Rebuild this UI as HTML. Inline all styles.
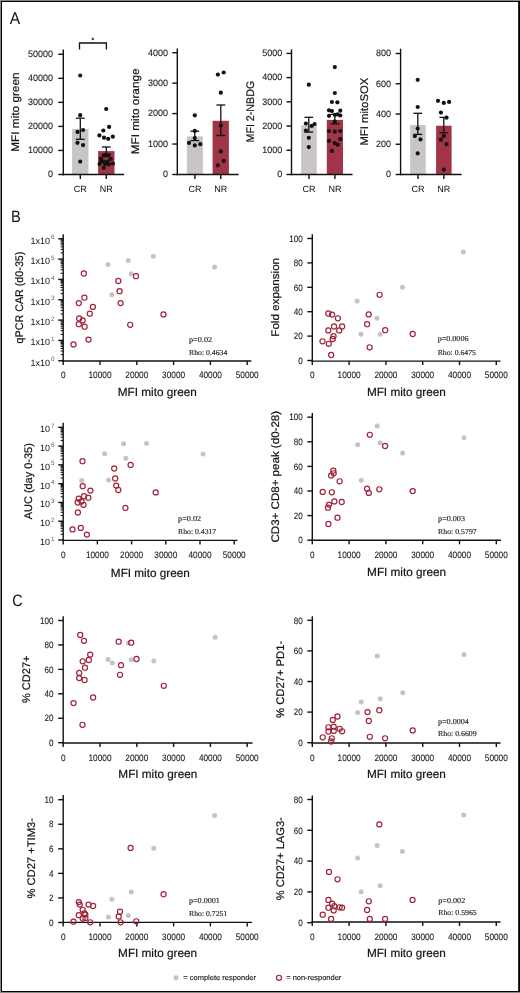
<!DOCTYPE html>
<html><head><meta charset="utf-8"><style>
html,body{margin:0;padding:0;background:#fff;}
body{width:520px;height:993px;overflow:hidden;position:relative;}
.frame{position:absolute;left:0;top:0;width:520px;height:993px;background:#888;}
.blk{position:absolute;left:1px;top:1px;width:519px;height:991px;background:#000;}
.r518{position:absolute;left:518px;top:2px;width:1px;height:989px;background:#2a2a2a;}
.inner{position:absolute;left:2px;top:2px;width:516px;height:989px;background:#fff;}
svg{position:absolute;left:0;top:0;will-change:transform;}
</style></head><body>
<div class="frame"></div><div class="blk"></div><div class="r518"></div><div class="inner"></div>
<svg width="520" height="993" viewBox="0 0 520 993" text-rendering="geometricPrecision">
<text x="9.80" y="23.70" font-size="17" text-anchor="start" font-family='"Liberation Sans", sans-serif' fill="#111" textLength="10.4" lengthAdjust="spacingAndGlyphs">A</text>
<text x="11.00" y="221.90" font-size="16.5" text-anchor="start" font-family='"Liberation Sans", sans-serif' fill="#111" textLength="9.8" lengthAdjust="spacingAndGlyphs">B</text>
<text x="12.30" y="606.20" font-size="16.5" text-anchor="start" font-family='"Liberation Sans", sans-serif' fill="#111" textLength="10.4" lengthAdjust="spacingAndGlyphs">C</text>
<rect x="72.10" y="128.90" width="16.40" height="45.60" fill="#c9c4c6"/>
<rect x="98.10" y="151.10" width="16.40" height="23.40" fill="#a13446"/>
<line x1="63.30" y1="49.50" x2="63.30" y2="175.20" stroke="#111" stroke-width="1.4"/>
<line x1="62.60" y1="174.50" x2="124.20" y2="174.50" stroke="#111" stroke-width="1.4"/>
<line x1="58.30" y1="174.50" x2="63.30" y2="174.50" stroke="#111" stroke-width="1.4"/>
<text x="53.00" y="177.30" font-size="9.4" text-anchor="end" font-family='"Liberation Sans", sans-serif' fill="#1a1a1a" textLength="5.0" lengthAdjust="spacingAndGlyphs" stroke="#1a1a1a" stroke-width="0.1">0</text>
<line x1="58.30" y1="150.45" x2="63.30" y2="150.45" stroke="#111" stroke-width="1.4"/>
<text x="53.00" y="153.25" font-size="9.4" text-anchor="end" font-family='"Liberation Sans", sans-serif' fill="#1a1a1a" textLength="25.0" lengthAdjust="spacingAndGlyphs" stroke="#1a1a1a" stroke-width="0.1">10000</text>
<line x1="58.30" y1="126.40" x2="63.30" y2="126.40" stroke="#111" stroke-width="1.4"/>
<text x="53.00" y="129.20" font-size="9.4" text-anchor="end" font-family='"Liberation Sans", sans-serif' fill="#1a1a1a" textLength="25.0" lengthAdjust="spacingAndGlyphs" stroke="#1a1a1a" stroke-width="0.1">20000</text>
<line x1="58.30" y1="102.35" x2="63.30" y2="102.35" stroke="#111" stroke-width="1.4"/>
<text x="53.00" y="105.15" font-size="9.4" text-anchor="end" font-family='"Liberation Sans", sans-serif' fill="#1a1a1a" textLength="25.0" lengthAdjust="spacingAndGlyphs" stroke="#1a1a1a" stroke-width="0.1">30000</text>
<line x1="58.30" y1="78.30" x2="63.30" y2="78.30" stroke="#111" stroke-width="1.4"/>
<text x="53.00" y="81.10" font-size="9.4" text-anchor="end" font-family='"Liberation Sans", sans-serif' fill="#1a1a1a" textLength="25.0" lengthAdjust="spacingAndGlyphs" stroke="#1a1a1a" stroke-width="0.1">40000</text>
<line x1="58.30" y1="54.25" x2="63.30" y2="54.25" stroke="#111" stroke-width="1.4"/>
<text x="53.00" y="57.05" font-size="9.4" text-anchor="end" font-family='"Liberation Sans", sans-serif' fill="#1a1a1a" textLength="25.0" lengthAdjust="spacingAndGlyphs" stroke="#1a1a1a" stroke-width="0.1">50000</text>
<line x1="80.30" y1="118.20" x2="80.30" y2="139.30" stroke="#111" stroke-width="1.3"/>
<line x1="75.90" y1="118.20" x2="84.70" y2="118.20" stroke="#111" stroke-width="1.3"/>
<line x1="75.90" y1="139.30" x2="84.70" y2="139.30" stroke="#111" stroke-width="1.3"/>
<line x1="106.30" y1="147.00" x2="106.30" y2="154.30" stroke="#111" stroke-width="1.3"/>
<line x1="101.90" y1="147.00" x2="110.70" y2="147.00" stroke="#111" stroke-width="1.3"/>
<line x1="101.90" y1="154.30" x2="110.70" y2="154.30" stroke="#111" stroke-width="1.3"/>
<circle cx="80.20" cy="75.50" r="2.1" fill="#111"/>
<circle cx="80.20" cy="115.20" r="2.1" fill="#111"/>
<circle cx="77.50" cy="131.90" r="2.1" fill="#111"/>
<circle cx="83.10" cy="130.00" r="2.1" fill="#111"/>
<circle cx="77.50" cy="142.80" r="2.1" fill="#111"/>
<circle cx="83.10" cy="145.10" r="2.1" fill="#111"/>
<circle cx="80.20" cy="161.60" r="2.1" fill="#111"/>
<circle cx="106.20" cy="109.00" r="2.1" fill="#111"/>
<circle cx="109.10" cy="126.90" r="2.1" fill="#111"/>
<circle cx="103.30" cy="130.50" r="2.1" fill="#111"/>
<circle cx="99.40" cy="135.40" r="2.1" fill="#111"/>
<circle cx="104.00" cy="137.70" r="2.1" fill="#111"/>
<circle cx="108.20" cy="138.80" r="2.1" fill="#111"/>
<circle cx="112.80" cy="136.70" r="2.1" fill="#111"/>
<circle cx="103.80" cy="155.60" r="2.1" fill="#111"/>
<circle cx="108.20" cy="155.40" r="2.1" fill="#111"/>
<circle cx="106.00" cy="155.20" r="2.1" fill="#111"/>
<circle cx="100.90" cy="158.60" r="2.1" fill="#111"/>
<circle cx="110.80" cy="158.80" r="2.1" fill="#111"/>
<circle cx="103.60" cy="161.60" r="2.1" fill="#111"/>
<circle cx="107.60" cy="161.60" r="2.1" fill="#111"/>
<circle cx="99.60" cy="163.90" r="2.1" fill="#111"/>
<circle cx="112.90" cy="163.50" r="2.1" fill="#111"/>
<circle cx="108.80" cy="164.30" r="2.1" fill="#111"/>
<circle cx="103.80" cy="167.80" r="2.1" fill="#111"/>
<circle cx="101.20" cy="161.00" r="2.1" fill="#111"/>
<circle cx="105.20" cy="164.00" r="2.1" fill="#111"/>
<line x1="80.30" y1="174.50" x2="80.30" y2="179.00" stroke="#111" stroke-width="1.4"/>
<text x="80.30" y="191.50" font-size="9" text-anchor="middle" font-family='"Liberation Sans", sans-serif' fill="#111">CR</text>
<line x1="106.30" y1="174.50" x2="106.30" y2="179.00" stroke="#111" stroke-width="1.4"/>
<text x="106.30" y="191.50" font-size="9" text-anchor="middle" font-family='"Liberation Sans", sans-serif' fill="#111">NR</text>
<text x="19.20" y="112.10" font-size="11" text-anchor="middle" font-family='"Liberation Sans", sans-serif' fill="#111" textLength="79.2" lengthAdjust="spacingAndGlyphs" transform="rotate(-90 19.20 112.10)" stroke="#111" stroke-width="0.2">MFI mito green</text>
<rect x="186.90" y="136.40" width="16.00" height="38.10" fill="#c9c4c6"/>
<rect x="212.60" y="120.80" width="16.30" height="53.70" fill="#a13446"/>
<line x1="177.30" y1="48.40" x2="177.30" y2="175.20" stroke="#111" stroke-width="1.4"/>
<line x1="176.60" y1="174.50" x2="238.60" y2="174.50" stroke="#111" stroke-width="1.4"/>
<line x1="172.30" y1="174.50" x2="177.30" y2="174.50" stroke="#111" stroke-width="1.4"/>
<text x="168.00" y="177.30" font-size="9.4" text-anchor="end" font-family='"Liberation Sans", sans-serif' fill="#1a1a1a" textLength="5.0" lengthAdjust="spacingAndGlyphs" stroke="#1a1a1a" stroke-width="0.1">0</text>
<line x1="172.30" y1="144.05" x2="177.30" y2="144.05" stroke="#111" stroke-width="1.4"/>
<text x="168.00" y="146.85" font-size="9.4" text-anchor="end" font-family='"Liberation Sans", sans-serif' fill="#1a1a1a" textLength="20.0" lengthAdjust="spacingAndGlyphs" stroke="#1a1a1a" stroke-width="0.1">1000</text>
<line x1="172.30" y1="113.60" x2="177.30" y2="113.60" stroke="#111" stroke-width="1.4"/>
<text x="168.00" y="116.40" font-size="9.4" text-anchor="end" font-family='"Liberation Sans", sans-serif' fill="#1a1a1a" textLength="20.0" lengthAdjust="spacingAndGlyphs" stroke="#1a1a1a" stroke-width="0.1">2000</text>
<line x1="172.30" y1="83.15" x2="177.30" y2="83.15" stroke="#111" stroke-width="1.4"/>
<text x="168.00" y="85.95" font-size="9.4" text-anchor="end" font-family='"Liberation Sans", sans-serif' fill="#1a1a1a" textLength="20.0" lengthAdjust="spacingAndGlyphs" stroke="#1a1a1a" stroke-width="0.1">3000</text>
<line x1="172.30" y1="52.70" x2="177.30" y2="52.70" stroke="#111" stroke-width="1.4"/>
<text x="168.00" y="55.50" font-size="9.4" text-anchor="end" font-family='"Liberation Sans", sans-serif' fill="#1a1a1a" textLength="20.0" lengthAdjust="spacingAndGlyphs" stroke="#1a1a1a" stroke-width="0.1">4000</text>
<line x1="194.80" y1="131.20" x2="194.80" y2="140.60" stroke="#111" stroke-width="1.3"/>
<line x1="190.40" y1="131.20" x2="199.20" y2="131.20" stroke="#111" stroke-width="1.3"/>
<line x1="190.40" y1="140.60" x2="199.20" y2="140.60" stroke="#111" stroke-width="1.3"/>
<line x1="220.80" y1="105.00" x2="220.80" y2="135.50" stroke="#111" stroke-width="1.3"/>
<line x1="216.40" y1="105.00" x2="225.20" y2="105.00" stroke="#111" stroke-width="1.3"/>
<line x1="216.40" y1="135.50" x2="225.20" y2="135.50" stroke="#111" stroke-width="1.3"/>
<circle cx="194.80" cy="115.30" r="2.1" fill="#111"/>
<circle cx="194.80" cy="130.90" r="2.1" fill="#111"/>
<circle cx="194.80" cy="138.10" r="2.1" fill="#111"/>
<circle cx="189.00" cy="142.90" r="2.1" fill="#111"/>
<circle cx="194.80" cy="145.40" r="2.1" fill="#111"/>
<circle cx="200.30" cy="144.20" r="2.1" fill="#111"/>
<circle cx="217.90" cy="74.60" r="2.1" fill="#111"/>
<circle cx="223.70" cy="72.50" r="2.1" fill="#111"/>
<circle cx="220.80" cy="92.70" r="2.1" fill="#111"/>
<circle cx="220.80" cy="125.40" r="2.1" fill="#111"/>
<circle cx="220.80" cy="151.40" r="2.1" fill="#111"/>
<circle cx="223.70" cy="160.80" r="2.1" fill="#111"/>
<circle cx="217.90" cy="165.30" r="2.1" fill="#111"/>
<line x1="194.90" y1="174.50" x2="194.90" y2="179.00" stroke="#111" stroke-width="1.4"/>
<text x="194.90" y="191.50" font-size="9" text-anchor="middle" font-family='"Liberation Sans", sans-serif' fill="#111">CR</text>
<line x1="220.75" y1="174.50" x2="220.75" y2="179.00" stroke="#111" stroke-width="1.4"/>
<text x="220.75" y="191.50" font-size="9" text-anchor="middle" font-family='"Liberation Sans", sans-serif' fill="#111">NR</text>
<text x="138.90" y="111.35" font-size="11" text-anchor="middle" font-family='"Liberation Sans", sans-serif' fill="#111" textLength="85.9" lengthAdjust="spacingAndGlyphs" transform="rotate(-90 138.90 111.35)" stroke="#111" stroke-width="0.2">MFI mito orange</text>
<rect x="301.20" y="125.20" width="15.50" height="49.30" fill="#c9c4c6"/>
<rect x="326.80" y="119.90" width="16.20" height="54.60" fill="#a13446"/>
<line x1="291.50" y1="49.40" x2="291.50" y2="175.20" stroke="#111" stroke-width="1.4"/>
<line x1="290.80" y1="174.50" x2="352.50" y2="174.50" stroke="#111" stroke-width="1.4"/>
<line x1="286.50" y1="174.50" x2="291.50" y2="174.50" stroke="#111" stroke-width="1.4"/>
<text x="282.30" y="177.30" font-size="9.4" text-anchor="end" font-family='"Liberation Sans", sans-serif' fill="#1a1a1a" textLength="5.0" lengthAdjust="spacingAndGlyphs" stroke="#1a1a1a" stroke-width="0.1">0</text>
<line x1="286.50" y1="150.28" x2="291.50" y2="150.28" stroke="#111" stroke-width="1.4"/>
<text x="282.30" y="153.08" font-size="9.4" text-anchor="end" font-family='"Liberation Sans", sans-serif' fill="#1a1a1a" textLength="20.0" lengthAdjust="spacingAndGlyphs" stroke="#1a1a1a" stroke-width="0.1">1000</text>
<line x1="286.50" y1="126.06" x2="291.50" y2="126.06" stroke="#111" stroke-width="1.4"/>
<text x="282.30" y="128.86" font-size="9.4" text-anchor="end" font-family='"Liberation Sans", sans-serif' fill="#1a1a1a" textLength="20.0" lengthAdjust="spacingAndGlyphs" stroke="#1a1a1a" stroke-width="0.1">2000</text>
<line x1="286.50" y1="101.84" x2="291.50" y2="101.84" stroke="#111" stroke-width="1.4"/>
<text x="282.30" y="104.64" font-size="9.4" text-anchor="end" font-family='"Liberation Sans", sans-serif' fill="#1a1a1a" textLength="20.0" lengthAdjust="spacingAndGlyphs" stroke="#1a1a1a" stroke-width="0.1">3000</text>
<line x1="286.50" y1="77.62" x2="291.50" y2="77.62" stroke="#111" stroke-width="1.4"/>
<text x="282.30" y="80.42" font-size="9.4" text-anchor="end" font-family='"Liberation Sans", sans-serif' fill="#1a1a1a" textLength="20.0" lengthAdjust="spacingAndGlyphs" stroke="#1a1a1a" stroke-width="0.1">4000</text>
<line x1="286.50" y1="53.40" x2="291.50" y2="53.40" stroke="#111" stroke-width="1.4"/>
<text x="282.30" y="56.20" font-size="9.4" text-anchor="end" font-family='"Liberation Sans", sans-serif' fill="#1a1a1a" textLength="20.0" lengthAdjust="spacingAndGlyphs" stroke="#1a1a1a" stroke-width="0.1">5000</text>
<line x1="308.80" y1="117.30" x2="308.80" y2="132.10" stroke="#111" stroke-width="1.3"/>
<line x1="304.40" y1="117.30" x2="313.20" y2="117.30" stroke="#111" stroke-width="1.3"/>
<line x1="304.40" y1="132.10" x2="313.20" y2="132.10" stroke="#111" stroke-width="1.3"/>
<line x1="334.90" y1="114.40" x2="334.90" y2="123.80" stroke="#111" stroke-width="1.3"/>
<line x1="330.50" y1="114.40" x2="339.30" y2="114.40" stroke="#111" stroke-width="1.3"/>
<line x1="330.50" y1="123.80" x2="339.30" y2="123.80" stroke="#111" stroke-width="1.3"/>
<circle cx="308.80" cy="84.70" r="2.1" fill="#111"/>
<circle cx="305.90" cy="123.50" r="2.1" fill="#111"/>
<circle cx="311.70" cy="125.90" r="2.1" fill="#111"/>
<circle cx="314.60" cy="124.00" r="2.1" fill="#111"/>
<circle cx="305.90" cy="130.50" r="2.1" fill="#111"/>
<circle cx="308.80" cy="137.80" r="2.1" fill="#111"/>
<circle cx="308.80" cy="147.10" r="2.1" fill="#111"/>
<circle cx="334.80" cy="67.10" r="2.1" fill="#111"/>
<circle cx="334.80" cy="93.00" r="2.1" fill="#111"/>
<circle cx="331.90" cy="102.00" r="2.1" fill="#111"/>
<circle cx="337.40" cy="102.30" r="2.1" fill="#111"/>
<circle cx="329.00" cy="110.30" r="2.1" fill="#111"/>
<circle cx="331.90" cy="111.10" r="2.1" fill="#111"/>
<circle cx="340.30" cy="110.70" r="2.1" fill="#111"/>
<circle cx="329.00" cy="115.80" r="2.1" fill="#111"/>
<circle cx="334.80" cy="114.80" r="2.1" fill="#111"/>
<circle cx="337.70" cy="114.40" r="2.1" fill="#111"/>
<circle cx="340.30" cy="115.50" r="2.1" fill="#111"/>
<circle cx="334.80" cy="121.60" r="2.1" fill="#111"/>
<circle cx="329.00" cy="131.00" r="2.1" fill="#111"/>
<circle cx="334.80" cy="131.70" r="2.1" fill="#111"/>
<circle cx="340.30" cy="131.00" r="2.1" fill="#111"/>
<circle cx="329.00" cy="140.80" r="2.1" fill="#111"/>
<circle cx="340.30" cy="139.20" r="2.1" fill="#111"/>
<circle cx="334.80" cy="143.20" r="2.1" fill="#111"/>
<circle cx="337.70" cy="144.70" r="2.1" fill="#111"/>
<circle cx="331.90" cy="150.90" r="2.1" fill="#111"/>
<line x1="308.95" y1="174.50" x2="308.95" y2="179.00" stroke="#111" stroke-width="1.4"/>
<text x="308.95" y="191.50" font-size="9" text-anchor="middle" font-family='"Liberation Sans", sans-serif' fill="#111">CR</text>
<line x1="334.90" y1="174.50" x2="334.90" y2="179.00" stroke="#111" stroke-width="1.4"/>
<text x="334.90" y="191.50" font-size="9" text-anchor="middle" font-family='"Liberation Sans", sans-serif' fill="#111">NR</text>
<text x="253.70" y="111.65" font-size="11" text-anchor="middle" font-family='"Liberation Sans", sans-serif' fill="#111" textLength="61.7" lengthAdjust="spacingAndGlyphs" transform="rotate(-90 253.70 111.65)" stroke="#111" stroke-width="0.2">MFI 2-NBDG</text>
<rect x="410.20" y="125.00" width="15.50" height="49.50" fill="#c9c4c6"/>
<rect x="436.10" y="125.70" width="15.50" height="48.80" fill="#a13446"/>
<line x1="400.60" y1="48.70" x2="400.60" y2="175.20" stroke="#111" stroke-width="1.4"/>
<line x1="399.90" y1="174.50" x2="461.70" y2="174.50" stroke="#111" stroke-width="1.4"/>
<line x1="395.60" y1="174.50" x2="400.60" y2="174.50" stroke="#111" stroke-width="1.4"/>
<text x="391.00" y="177.30" font-size="9.4" text-anchor="end" font-family='"Liberation Sans", sans-serif' fill="#1a1a1a" textLength="5.0" lengthAdjust="spacingAndGlyphs" stroke="#1a1a1a" stroke-width="0.1">0</text>
<line x1="395.60" y1="144.25" x2="400.60" y2="144.25" stroke="#111" stroke-width="1.4"/>
<text x="391.00" y="147.05" font-size="9.4" text-anchor="end" font-family='"Liberation Sans", sans-serif' fill="#1a1a1a" textLength="15.0" lengthAdjust="spacingAndGlyphs" stroke="#1a1a1a" stroke-width="0.1">200</text>
<line x1="395.60" y1="114.00" x2="400.60" y2="114.00" stroke="#111" stroke-width="1.4"/>
<text x="391.00" y="116.80" font-size="9.4" text-anchor="end" font-family='"Liberation Sans", sans-serif' fill="#1a1a1a" textLength="15.0" lengthAdjust="spacingAndGlyphs" stroke="#1a1a1a" stroke-width="0.1">400</text>
<line x1="395.60" y1="83.75" x2="400.60" y2="83.75" stroke="#111" stroke-width="1.4"/>
<text x="391.00" y="86.55" font-size="9.4" text-anchor="end" font-family='"Liberation Sans", sans-serif' fill="#1a1a1a" textLength="15.0" lengthAdjust="spacingAndGlyphs" stroke="#1a1a1a" stroke-width="0.1">600</text>
<line x1="395.60" y1="53.50" x2="400.60" y2="53.50" stroke="#111" stroke-width="1.4"/>
<text x="391.00" y="56.30" font-size="9.4" text-anchor="end" font-family='"Liberation Sans", sans-serif' fill="#1a1a1a" textLength="15.0" lengthAdjust="spacingAndGlyphs" stroke="#1a1a1a" stroke-width="0.1">800</text>
<line x1="417.80" y1="113.30" x2="417.80" y2="134.40" stroke="#111" stroke-width="1.3"/>
<line x1="413.40" y1="113.30" x2="422.20" y2="113.30" stroke="#111" stroke-width="1.3"/>
<line x1="413.40" y1="134.40" x2="422.20" y2="134.40" stroke="#111" stroke-width="1.3"/>
<line x1="443.80" y1="117.40" x2="443.80" y2="132.80" stroke="#111" stroke-width="1.3"/>
<line x1="439.40" y1="117.40" x2="448.20" y2="117.40" stroke="#111" stroke-width="1.3"/>
<line x1="439.40" y1="132.80" x2="448.20" y2="132.80" stroke="#111" stroke-width="1.3"/>
<circle cx="417.70" cy="79.80" r="2.1" fill="#111"/>
<circle cx="417.70" cy="107.00" r="2.1" fill="#111"/>
<circle cx="417.70" cy="128.50" r="2.1" fill="#111"/>
<circle cx="414.90" cy="136.10" r="2.1" fill="#111"/>
<circle cx="420.50" cy="139.40" r="2.1" fill="#111"/>
<circle cx="417.70" cy="153.40" r="2.1" fill="#111"/>
<circle cx="438.00" cy="100.80" r="2.1" fill="#111"/>
<circle cx="443.80" cy="102.90" r="2.1" fill="#111"/>
<circle cx="449.10" cy="101.90" r="2.1" fill="#111"/>
<circle cx="440.90" cy="112.60" r="2.1" fill="#111"/>
<circle cx="446.50" cy="117.70" r="2.1" fill="#111"/>
<circle cx="443.80" cy="136.10" r="2.1" fill="#111"/>
<circle cx="440.90" cy="139.70" r="2.1" fill="#111"/>
<circle cx="446.50" cy="144.10" r="2.1" fill="#111"/>
<circle cx="443.80" cy="169.60" r="2.1" fill="#111"/>
<line x1="417.95" y1="174.50" x2="417.95" y2="179.00" stroke="#111" stroke-width="1.4"/>
<text x="417.95" y="191.50" font-size="9" text-anchor="middle" font-family='"Liberation Sans", sans-serif' fill="#111">CR</text>
<line x1="443.85" y1="174.50" x2="443.85" y2="179.00" stroke="#111" stroke-width="1.4"/>
<text x="443.85" y="191.50" font-size="9" text-anchor="middle" font-family='"Liberation Sans", sans-serif' fill="#111">NR</text>
<text x="367.70" y="111.65" font-size="11" text-anchor="middle" font-family='"Liberation Sans", sans-serif' fill="#111" textLength="67.9" lengthAdjust="spacingAndGlyphs" transform="rotate(-90 367.70 111.65)" stroke="#111" stroke-width="0.2">MFI mitoSOX</text>
<polyline points="79.5,49.5 79.5,43 106.4,43 106.4,49.5" fill="none" stroke="#111" stroke-width="1.3"/>
<g stroke="#222" stroke-width="0.8"><line x1="92.8" y1="37.6" x2="92.8" y2="40.2"/><line x1="91.7" y1="38.2" x2="93.9" y2="39.6"/><line x1="91.7" y1="39.6" x2="93.9" y2="38.2"/></g>
<line x1="63.20" y1="234.20" x2="63.20" y2="361.70" stroke="#111" stroke-width="1.4"/>
<line x1="62.50" y1="361.00" x2="251.30" y2="361.00" stroke="#111" stroke-width="1.4"/>
<line x1="58.20" y1="360.75" x2="63.20" y2="360.75" stroke="#111" stroke-width="1.4"/>
<text x="50.00" y="365.65" font-size="9" text-anchor="end" font-family='"Liberation Sans", sans-serif' fill="#111">1x10</text>
<text x="50.90" y="361.35" font-size="6.3" text-anchor="start" font-family='"Liberation Sans", sans-serif' fill="#666">0</text>
<line x1="58.20" y1="340.42" x2="63.20" y2="340.42" stroke="#111" stroke-width="1.4"/>
<text x="50.00" y="345.32" font-size="9" text-anchor="end" font-family='"Liberation Sans", sans-serif' fill="#111">1x10</text>
<text x="50.90" y="341.02" font-size="6.3" text-anchor="start" font-family='"Liberation Sans", sans-serif' fill="#666">1</text>
<line x1="58.20" y1="320.09" x2="63.20" y2="320.09" stroke="#111" stroke-width="1.4"/>
<text x="50.00" y="324.99" font-size="9" text-anchor="end" font-family='"Liberation Sans", sans-serif' fill="#111">1x10</text>
<text x="50.90" y="320.69" font-size="6.3" text-anchor="start" font-family='"Liberation Sans", sans-serif' fill="#666">2</text>
<line x1="58.20" y1="299.76" x2="63.20" y2="299.76" stroke="#111" stroke-width="1.4"/>
<text x="50.00" y="304.66" font-size="9" text-anchor="end" font-family='"Liberation Sans", sans-serif' fill="#111">1x10</text>
<text x="50.90" y="300.36" font-size="6.3" text-anchor="start" font-family='"Liberation Sans", sans-serif' fill="#666">3</text>
<line x1="58.20" y1="279.43" x2="63.20" y2="279.43" stroke="#111" stroke-width="1.4"/>
<text x="50.00" y="284.33" font-size="9" text-anchor="end" font-family='"Liberation Sans", sans-serif' fill="#111">1x10</text>
<text x="50.90" y="280.03" font-size="6.3" text-anchor="start" font-family='"Liberation Sans", sans-serif' fill="#666">4</text>
<line x1="58.20" y1="259.10" x2="63.20" y2="259.10" stroke="#111" stroke-width="1.4"/>
<text x="50.00" y="264.00" font-size="9" text-anchor="end" font-family='"Liberation Sans", sans-serif' fill="#111">1x10</text>
<text x="50.90" y="259.70" font-size="6.3" text-anchor="start" font-family='"Liberation Sans", sans-serif' fill="#666">5</text>
<line x1="58.20" y1="238.77" x2="63.20" y2="238.77" stroke="#111" stroke-width="1.4"/>
<text x="50.00" y="243.67" font-size="9" text-anchor="end" font-family='"Liberation Sans", sans-serif' fill="#111">1x10</text>
<text x="50.90" y="239.37" font-size="6.3" text-anchor="start" font-family='"Liberation Sans", sans-serif' fill="#666">6</text>
<line x1="60.60" y1="354.63" x2="63.20" y2="354.63" stroke="#111" stroke-width="1.0"/>
<line x1="60.60" y1="351.05" x2="63.20" y2="351.05" stroke="#111" stroke-width="1.0"/>
<line x1="60.60" y1="348.51" x2="63.20" y2="348.51" stroke="#111" stroke-width="1.0"/>
<line x1="60.60" y1="346.54" x2="63.20" y2="346.54" stroke="#111" stroke-width="1.0"/>
<line x1="60.60" y1="344.93" x2="63.20" y2="344.93" stroke="#111" stroke-width="1.0"/>
<line x1="60.60" y1="343.57" x2="63.20" y2="343.57" stroke="#111" stroke-width="1.0"/>
<line x1="60.60" y1="342.39" x2="63.20" y2="342.39" stroke="#111" stroke-width="1.0"/>
<line x1="60.60" y1="341.35" x2="63.20" y2="341.35" stroke="#111" stroke-width="1.0"/>
<line x1="60.60" y1="334.30" x2="63.20" y2="334.30" stroke="#111" stroke-width="1.0"/>
<line x1="60.60" y1="330.72" x2="63.20" y2="330.72" stroke="#111" stroke-width="1.0"/>
<line x1="60.60" y1="328.18" x2="63.20" y2="328.18" stroke="#111" stroke-width="1.0"/>
<line x1="60.60" y1="326.21" x2="63.20" y2="326.21" stroke="#111" stroke-width="1.0"/>
<line x1="60.60" y1="324.60" x2="63.20" y2="324.60" stroke="#111" stroke-width="1.0"/>
<line x1="60.60" y1="323.24" x2="63.20" y2="323.24" stroke="#111" stroke-width="1.0"/>
<line x1="60.60" y1="322.06" x2="63.20" y2="322.06" stroke="#111" stroke-width="1.0"/>
<line x1="60.60" y1="321.02" x2="63.20" y2="321.02" stroke="#111" stroke-width="1.0"/>
<line x1="60.60" y1="313.97" x2="63.20" y2="313.97" stroke="#111" stroke-width="1.0"/>
<line x1="60.60" y1="310.39" x2="63.20" y2="310.39" stroke="#111" stroke-width="1.0"/>
<line x1="60.60" y1="307.85" x2="63.20" y2="307.85" stroke="#111" stroke-width="1.0"/>
<line x1="60.60" y1="305.88" x2="63.20" y2="305.88" stroke="#111" stroke-width="1.0"/>
<line x1="60.60" y1="304.27" x2="63.20" y2="304.27" stroke="#111" stroke-width="1.0"/>
<line x1="60.60" y1="302.91" x2="63.20" y2="302.91" stroke="#111" stroke-width="1.0"/>
<line x1="60.60" y1="301.73" x2="63.20" y2="301.73" stroke="#111" stroke-width="1.0"/>
<line x1="60.60" y1="300.69" x2="63.20" y2="300.69" stroke="#111" stroke-width="1.0"/>
<line x1="60.60" y1="293.64" x2="63.20" y2="293.64" stroke="#111" stroke-width="1.0"/>
<line x1="60.60" y1="290.06" x2="63.20" y2="290.06" stroke="#111" stroke-width="1.0"/>
<line x1="60.60" y1="287.52" x2="63.20" y2="287.52" stroke="#111" stroke-width="1.0"/>
<line x1="60.60" y1="285.55" x2="63.20" y2="285.55" stroke="#111" stroke-width="1.0"/>
<line x1="60.60" y1="283.94" x2="63.20" y2="283.94" stroke="#111" stroke-width="1.0"/>
<line x1="60.60" y1="282.58" x2="63.20" y2="282.58" stroke="#111" stroke-width="1.0"/>
<line x1="60.60" y1="281.40" x2="63.20" y2="281.40" stroke="#111" stroke-width="1.0"/>
<line x1="60.60" y1="280.36" x2="63.20" y2="280.36" stroke="#111" stroke-width="1.0"/>
<line x1="60.60" y1="273.31" x2="63.20" y2="273.31" stroke="#111" stroke-width="1.0"/>
<line x1="60.60" y1="269.73" x2="63.20" y2="269.73" stroke="#111" stroke-width="1.0"/>
<line x1="60.60" y1="267.19" x2="63.20" y2="267.19" stroke="#111" stroke-width="1.0"/>
<line x1="60.60" y1="265.22" x2="63.20" y2="265.22" stroke="#111" stroke-width="1.0"/>
<line x1="60.60" y1="263.61" x2="63.20" y2="263.61" stroke="#111" stroke-width="1.0"/>
<line x1="60.60" y1="262.25" x2="63.20" y2="262.25" stroke="#111" stroke-width="1.0"/>
<line x1="60.60" y1="261.07" x2="63.20" y2="261.07" stroke="#111" stroke-width="1.0"/>
<line x1="60.60" y1="260.03" x2="63.20" y2="260.03" stroke="#111" stroke-width="1.0"/>
<line x1="60.60" y1="252.98" x2="63.20" y2="252.98" stroke="#111" stroke-width="1.0"/>
<line x1="60.60" y1="249.40" x2="63.20" y2="249.40" stroke="#111" stroke-width="1.0"/>
<line x1="60.60" y1="246.86" x2="63.20" y2="246.86" stroke="#111" stroke-width="1.0"/>
<line x1="60.60" y1="244.89" x2="63.20" y2="244.89" stroke="#111" stroke-width="1.0"/>
<line x1="60.60" y1="243.28" x2="63.20" y2="243.28" stroke="#111" stroke-width="1.0"/>
<line x1="60.60" y1="241.92" x2="63.20" y2="241.92" stroke="#111" stroke-width="1.0"/>
<line x1="60.60" y1="240.74" x2="63.20" y2="240.74" stroke="#111" stroke-width="1.0"/>
<line x1="60.60" y1="239.70" x2="63.20" y2="239.70" stroke="#111" stroke-width="1.0"/>
<line x1="63.20" y1="361.00" x2="63.20" y2="365.00" stroke="#111" stroke-width="1.4"/>
<text x="63.20" y="378.10" font-size="9.3" text-anchor="middle" font-family='"Liberation Sans", sans-serif' fill="#1a1a1a" textLength="4.6" lengthAdjust="spacingAndGlyphs" stroke="#1a1a1a" stroke-width="0.1">0</text>
<line x1="100.00" y1="361.00" x2="100.00" y2="365.00" stroke="#111" stroke-width="1.4"/>
<text x="100.00" y="378.10" font-size="9.3" text-anchor="middle" font-family='"Liberation Sans", sans-serif' fill="#1a1a1a" textLength="23.0" lengthAdjust="spacingAndGlyphs" stroke="#1a1a1a" stroke-width="0.1">10000</text>
<line x1="136.80" y1="361.00" x2="136.80" y2="365.00" stroke="#111" stroke-width="1.4"/>
<text x="136.80" y="378.10" font-size="9.3" text-anchor="middle" font-family='"Liberation Sans", sans-serif' fill="#1a1a1a" textLength="23.0" lengthAdjust="spacingAndGlyphs" stroke="#1a1a1a" stroke-width="0.1">20000</text>
<line x1="173.60" y1="361.00" x2="173.60" y2="365.00" stroke="#111" stroke-width="1.4"/>
<text x="173.60" y="378.10" font-size="9.3" text-anchor="middle" font-family='"Liberation Sans", sans-serif' fill="#1a1a1a" textLength="23.0" lengthAdjust="spacingAndGlyphs" stroke="#1a1a1a" stroke-width="0.1">30000</text>
<line x1="210.40" y1="361.00" x2="210.40" y2="365.00" stroke="#111" stroke-width="1.4"/>
<text x="210.40" y="378.10" font-size="9.3" text-anchor="middle" font-family='"Liberation Sans", sans-serif' fill="#1a1a1a" textLength="23.0" lengthAdjust="spacingAndGlyphs" stroke="#1a1a1a" stroke-width="0.1">40000</text>
<line x1="247.20" y1="361.00" x2="247.20" y2="365.00" stroke="#111" stroke-width="1.4"/>
<text x="247.20" y="378.10" font-size="9.3" text-anchor="middle" font-family='"Liberation Sans", sans-serif' fill="#1a1a1a" textLength="23.0" lengthAdjust="spacingAndGlyphs" stroke="#1a1a1a" stroke-width="0.1">50000</text>
<text x="157.25" y="396.00" font-size="11.8" text-anchor="middle" font-family='"Liberation Sans", sans-serif' fill="#111" textLength="79" lengthAdjust="spacingAndGlyphs" stroke="#111" stroke-width="0.2">MFI mito green</text>
<text x="23.40" y="297.55" font-size="11" text-anchor="middle" font-family='"Liberation Sans", sans-serif' fill="#111" textLength="91.9" lengthAdjust="spacingAndGlyphs" transform="rotate(-90 23.40 297.55)" stroke="#111" stroke-width="0.2">qPCR CAR (d0-35)</text>
<circle cx="108.10" cy="264.60" r="2.5" fill="#c7c2c4"/>
<circle cx="128.30" cy="260.40" r="2.5" fill="#c7c2c4"/>
<circle cx="153.30" cy="256.30" r="2.5" fill="#c7c2c4"/>
<circle cx="131.20" cy="273.80" r="2.5" fill="#c7c2c4"/>
<circle cx="111.90" cy="294.80" r="2.5" fill="#c7c2c4"/>
<circle cx="214.50" cy="267.00" r="2.5" fill="#c7c2c4"/>
<circle cx="83.80" cy="273.50" r="2.55" fill="none" stroke="#a0243a" stroke-width="1.2"/>
<circle cx="118.30" cy="281.00" r="2.55" fill="none" stroke="#a0243a" stroke-width="1.2"/>
<circle cx="136.00" cy="276.20" r="2.55" fill="none" stroke="#a0243a" stroke-width="1.2"/>
<circle cx="119.60" cy="291.20" r="2.55" fill="none" stroke="#a0243a" stroke-width="1.2"/>
<circle cx="84.40" cy="297.70" r="2.55" fill="none" stroke="#a0243a" stroke-width="1.2"/>
<circle cx="78.80" cy="303.10" r="2.55" fill="none" stroke="#a0243a" stroke-width="1.2"/>
<circle cx="120.60" cy="303.10" r="2.55" fill="none" stroke="#a0243a" stroke-width="1.2"/>
<circle cx="92.90" cy="306.90" r="2.55" fill="none" stroke="#a0243a" stroke-width="1.2"/>
<circle cx="89.80" cy="313.70" r="2.55" fill="none" stroke="#a0243a" stroke-width="1.2"/>
<circle cx="79.20" cy="318.50" r="2.55" fill="none" stroke="#a0243a" stroke-width="1.2"/>
<circle cx="82.70" cy="320.40" r="2.55" fill="none" stroke="#a0243a" stroke-width="1.2"/>
<circle cx="78.80" cy="324.20" r="2.55" fill="none" stroke="#a0243a" stroke-width="1.2"/>
<circle cx="84.60" cy="326.70" r="2.55" fill="none" stroke="#a0243a" stroke-width="1.2"/>
<circle cx="130.20" cy="324.80" r="2.55" fill="none" stroke="#a0243a" stroke-width="1.2"/>
<circle cx="88.50" cy="339.60" r="2.55" fill="none" stroke="#a0243a" stroke-width="1.2"/>
<circle cx="73.50" cy="344.40" r="2.55" fill="none" stroke="#a0243a" stroke-width="1.2"/>
<circle cx="163.50" cy="314.40" r="2.55" fill="none" stroke="#a0243a" stroke-width="1.2"/>
<text x="189.00" y="341.90" font-size="7.6" text-anchor="start" font-family='"Liberation Serif", serif' fill="#222" textLength="23.1" lengthAdjust="spacingAndGlyphs" stroke="#222" stroke-width="0.15">p=0.02</text>
<text x="189.00" y="354.80" font-size="7.6" text-anchor="start" font-family='"Liberation Serif", serif' fill="#222" textLength="38.3" lengthAdjust="spacingAndGlyphs" stroke="#222" stroke-width="0.15">Rho: 0.4634</text>
<line x1="312.30" y1="234.20" x2="312.30" y2="361.80" stroke="#111" stroke-width="1.4"/>
<line x1="311.60" y1="361.10" x2="500.50" y2="361.10" stroke="#111" stroke-width="1.4"/>
<line x1="307.30" y1="360.50" x2="312.30" y2="360.50" stroke="#111" stroke-width="1.4"/>
<text x="302.70" y="363.70" font-size="9.3" text-anchor="end" font-family='"Liberation Sans", sans-serif' fill="#1a1a1a" textLength="4.5" lengthAdjust="spacingAndGlyphs" stroke="#1a1a1a" stroke-width="0.1">0</text>
<line x1="307.30" y1="336.10" x2="312.30" y2="336.10" stroke="#111" stroke-width="1.4"/>
<text x="302.70" y="339.30" font-size="9.3" text-anchor="end" font-family='"Liberation Sans", sans-serif' fill="#1a1a1a" textLength="9.0" lengthAdjust="spacingAndGlyphs" stroke="#1a1a1a" stroke-width="0.1">20</text>
<line x1="307.30" y1="311.70" x2="312.30" y2="311.70" stroke="#111" stroke-width="1.4"/>
<text x="302.70" y="314.90" font-size="9.3" text-anchor="end" font-family='"Liberation Sans", sans-serif' fill="#1a1a1a" textLength="9.0" lengthAdjust="spacingAndGlyphs" stroke="#1a1a1a" stroke-width="0.1">40</text>
<line x1="307.30" y1="287.30" x2="312.30" y2="287.30" stroke="#111" stroke-width="1.4"/>
<text x="302.70" y="290.50" font-size="9.3" text-anchor="end" font-family='"Liberation Sans", sans-serif' fill="#1a1a1a" textLength="9.0" lengthAdjust="spacingAndGlyphs" stroke="#1a1a1a" stroke-width="0.1">60</text>
<line x1="307.30" y1="262.90" x2="312.30" y2="262.90" stroke="#111" stroke-width="1.4"/>
<text x="302.70" y="266.10" font-size="9.3" text-anchor="end" font-family='"Liberation Sans", sans-serif' fill="#1a1a1a" textLength="9.0" lengthAdjust="spacingAndGlyphs" stroke="#1a1a1a" stroke-width="0.1">80</text>
<line x1="307.30" y1="238.50" x2="312.30" y2="238.50" stroke="#111" stroke-width="1.4"/>
<text x="302.70" y="241.70" font-size="9.3" text-anchor="end" font-family='"Liberation Sans", sans-serif' fill="#1a1a1a" textLength="13.5" lengthAdjust="spacingAndGlyphs" stroke="#1a1a1a" stroke-width="0.1">100</text>
<line x1="312.30" y1="361.10" x2="312.30" y2="365.10" stroke="#111" stroke-width="1.4"/>
<text x="312.30" y="378.10" font-size="9.3" text-anchor="middle" font-family='"Liberation Sans", sans-serif' fill="#1a1a1a" textLength="4.6" lengthAdjust="spacingAndGlyphs" stroke="#1a1a1a" stroke-width="0.1">0</text>
<line x1="349.10" y1="361.10" x2="349.10" y2="365.10" stroke="#111" stroke-width="1.4"/>
<text x="349.10" y="378.10" font-size="9.3" text-anchor="middle" font-family='"Liberation Sans", sans-serif' fill="#1a1a1a" textLength="23.0" lengthAdjust="spacingAndGlyphs" stroke="#1a1a1a" stroke-width="0.1">10000</text>
<line x1="385.90" y1="361.10" x2="385.90" y2="365.10" stroke="#111" stroke-width="1.4"/>
<text x="385.90" y="378.10" font-size="9.3" text-anchor="middle" font-family='"Liberation Sans", sans-serif' fill="#1a1a1a" textLength="23.0" lengthAdjust="spacingAndGlyphs" stroke="#1a1a1a" stroke-width="0.1">20000</text>
<line x1="422.70" y1="361.10" x2="422.70" y2="365.10" stroke="#111" stroke-width="1.4"/>
<text x="422.70" y="378.10" font-size="9.3" text-anchor="middle" font-family='"Liberation Sans", sans-serif' fill="#1a1a1a" textLength="23.0" lengthAdjust="spacingAndGlyphs" stroke="#1a1a1a" stroke-width="0.1">30000</text>
<line x1="459.50" y1="361.10" x2="459.50" y2="365.10" stroke="#111" stroke-width="1.4"/>
<text x="459.50" y="378.10" font-size="9.3" text-anchor="middle" font-family='"Liberation Sans", sans-serif' fill="#1a1a1a" textLength="23.0" lengthAdjust="spacingAndGlyphs" stroke="#1a1a1a" stroke-width="0.1">40000</text>
<line x1="496.30" y1="361.10" x2="496.30" y2="365.10" stroke="#111" stroke-width="1.4"/>
<text x="496.30" y="378.10" font-size="9.3" text-anchor="middle" font-family='"Liberation Sans", sans-serif' fill="#1a1a1a" textLength="23.0" lengthAdjust="spacingAndGlyphs" stroke="#1a1a1a" stroke-width="0.1">50000</text>
<text x="406.40" y="396.00" font-size="11.8" text-anchor="middle" font-family='"Liberation Sans", sans-serif' fill="#111" textLength="79" lengthAdjust="spacingAndGlyphs" stroke="#111" stroke-width="0.2">MFI mito green</text>
<text x="279.30" y="297.30" font-size="11" text-anchor="middle" font-family='"Liberation Sans", sans-serif' fill="#111" textLength="78.8" lengthAdjust="spacingAndGlyphs" transform="rotate(-90 279.30 297.30)" stroke="#111" stroke-width="0.2">Fold expansion</text>
<circle cx="357.10" cy="301.00" r="2.5" fill="#c7c2c4"/>
<circle cx="376.90" cy="318.30" r="2.5" fill="#c7c2c4"/>
<circle cx="361.00" cy="334.20" r="2.5" fill="#c7c2c4"/>
<circle cx="380.20" cy="334.20" r="2.5" fill="#c7c2c4"/>
<circle cx="402.50" cy="287.30" r="2.5" fill="#c7c2c4"/>
<circle cx="463.30" cy="251.90" r="2.5" fill="#c7c2c4"/>
<circle cx="379.60" cy="294.80" r="2.55" fill="none" stroke="#a0243a" stroke-width="1.2"/>
<circle cx="328.30" cy="313.50" r="2.55" fill="none" stroke="#a0243a" stroke-width="1.2"/>
<circle cx="332.10" cy="314.60" r="2.55" fill="none" stroke="#a0243a" stroke-width="1.2"/>
<circle cx="337.90" cy="318.30" r="2.55" fill="none" stroke="#a0243a" stroke-width="1.2"/>
<circle cx="368.70" cy="314.40" r="2.55" fill="none" stroke="#a0243a" stroke-width="1.2"/>
<circle cx="367.10" cy="324.20" r="2.55" fill="none" stroke="#a0243a" stroke-width="1.2"/>
<circle cx="334.00" cy="326.50" r="2.55" fill="none" stroke="#a0243a" stroke-width="1.2"/>
<circle cx="342.10" cy="326.50" r="2.55" fill="none" stroke="#a0243a" stroke-width="1.2"/>
<circle cx="328.30" cy="330.40" r="2.55" fill="none" stroke="#a0243a" stroke-width="1.2"/>
<circle cx="339.20" cy="330.40" r="2.55" fill="none" stroke="#a0243a" stroke-width="1.2"/>
<circle cx="385.20" cy="330.20" r="2.55" fill="none" stroke="#a0243a" stroke-width="1.2"/>
<circle cx="333.50" cy="336.20" r="2.55" fill="none" stroke="#a0243a" stroke-width="1.2"/>
<circle cx="332.70" cy="339.00" r="2.55" fill="none" stroke="#a0243a" stroke-width="1.2"/>
<circle cx="322.50" cy="341.30" r="2.55" fill="none" stroke="#a0243a" stroke-width="1.2"/>
<circle cx="328.80" cy="343.80" r="2.55" fill="none" stroke="#a0243a" stroke-width="1.2"/>
<circle cx="369.60" cy="347.30" r="2.55" fill="none" stroke="#a0243a" stroke-width="1.2"/>
<circle cx="331.20" cy="355.00" r="2.55" fill="none" stroke="#a0243a" stroke-width="1.2"/>
<circle cx="412.70" cy="334.00" r="2.55" fill="none" stroke="#a0243a" stroke-width="1.2"/>
<text x="437.70" y="341.20" font-size="7.6" text-anchor="start" font-family='"Liberation Serif", serif' fill="#222" textLength="30.8" lengthAdjust="spacingAndGlyphs" stroke="#222" stroke-width="0.15">p=0.0006</text>
<text x="437.70" y="354.80" font-size="7.6" text-anchor="start" font-family='"Liberation Serif", serif' fill="#222" textLength="38.3" lengthAdjust="spacingAndGlyphs" stroke="#222" stroke-width="0.15">Rho: 0.6475</text>
<line x1="63.20" y1="422.70" x2="63.20" y2="541.10" stroke="#111" stroke-width="1.4"/>
<line x1="62.50" y1="540.40" x2="237.50" y2="540.40" stroke="#111" stroke-width="1.4"/>
<line x1="58.20" y1="540.00" x2="63.20" y2="540.00" stroke="#111" stroke-width="1.4"/>
<text x="50.00" y="544.90" font-size="9" text-anchor="end" font-family='"Liberation Sans", sans-serif' fill="#111">10</text>
<text x="50.90" y="540.60" font-size="6.3" text-anchor="start" font-family='"Liberation Sans", sans-serif' fill="#666">1</text>
<line x1="58.20" y1="521.22" x2="63.20" y2="521.22" stroke="#111" stroke-width="1.4"/>
<text x="50.00" y="526.12" font-size="9" text-anchor="end" font-family='"Liberation Sans", sans-serif' fill="#111">10</text>
<text x="50.90" y="521.82" font-size="6.3" text-anchor="start" font-family='"Liberation Sans", sans-serif' fill="#666">2</text>
<line x1="58.20" y1="502.44" x2="63.20" y2="502.44" stroke="#111" stroke-width="1.4"/>
<text x="50.00" y="507.34" font-size="9" text-anchor="end" font-family='"Liberation Sans", sans-serif' fill="#111">10</text>
<text x="50.90" y="503.04" font-size="6.3" text-anchor="start" font-family='"Liberation Sans", sans-serif' fill="#666">3</text>
<line x1="58.20" y1="483.66" x2="63.20" y2="483.66" stroke="#111" stroke-width="1.4"/>
<text x="50.00" y="488.56" font-size="9" text-anchor="end" font-family='"Liberation Sans", sans-serif' fill="#111">10</text>
<text x="50.90" y="484.26" font-size="6.3" text-anchor="start" font-family='"Liberation Sans", sans-serif' fill="#666">4</text>
<line x1="58.20" y1="464.88" x2="63.20" y2="464.88" stroke="#111" stroke-width="1.4"/>
<text x="50.00" y="469.78" font-size="9" text-anchor="end" font-family='"Liberation Sans", sans-serif' fill="#111">10</text>
<text x="50.90" y="465.48" font-size="6.3" text-anchor="start" font-family='"Liberation Sans", sans-serif' fill="#666">5</text>
<line x1="58.20" y1="446.10" x2="63.20" y2="446.10" stroke="#111" stroke-width="1.4"/>
<text x="50.00" y="451.00" font-size="9" text-anchor="end" font-family='"Liberation Sans", sans-serif' fill="#111">10</text>
<text x="50.90" y="446.70" font-size="6.3" text-anchor="start" font-family='"Liberation Sans", sans-serif' fill="#666">6</text>
<line x1="58.20" y1="427.32" x2="63.20" y2="427.32" stroke="#111" stroke-width="1.4"/>
<text x="50.00" y="432.22" font-size="9" text-anchor="end" font-family='"Liberation Sans", sans-serif' fill="#111">10</text>
<text x="50.90" y="427.92" font-size="6.3" text-anchor="start" font-family='"Liberation Sans", sans-serif' fill="#666">7</text>
<line x1="60.60" y1="534.35" x2="63.20" y2="534.35" stroke="#111" stroke-width="1.0"/>
<line x1="60.60" y1="531.04" x2="63.20" y2="531.04" stroke="#111" stroke-width="1.0"/>
<line x1="60.60" y1="528.69" x2="63.20" y2="528.69" stroke="#111" stroke-width="1.0"/>
<line x1="60.60" y1="526.87" x2="63.20" y2="526.87" stroke="#111" stroke-width="1.0"/>
<line x1="60.60" y1="525.39" x2="63.20" y2="525.39" stroke="#111" stroke-width="1.0"/>
<line x1="60.60" y1="524.13" x2="63.20" y2="524.13" stroke="#111" stroke-width="1.0"/>
<line x1="60.60" y1="523.04" x2="63.20" y2="523.04" stroke="#111" stroke-width="1.0"/>
<line x1="60.60" y1="522.08" x2="63.20" y2="522.08" stroke="#111" stroke-width="1.0"/>
<line x1="60.60" y1="515.57" x2="63.20" y2="515.57" stroke="#111" stroke-width="1.0"/>
<line x1="60.60" y1="512.26" x2="63.20" y2="512.26" stroke="#111" stroke-width="1.0"/>
<line x1="60.60" y1="509.91" x2="63.20" y2="509.91" stroke="#111" stroke-width="1.0"/>
<line x1="60.60" y1="508.09" x2="63.20" y2="508.09" stroke="#111" stroke-width="1.0"/>
<line x1="60.60" y1="506.61" x2="63.20" y2="506.61" stroke="#111" stroke-width="1.0"/>
<line x1="60.60" y1="505.35" x2="63.20" y2="505.35" stroke="#111" stroke-width="1.0"/>
<line x1="60.60" y1="504.26" x2="63.20" y2="504.26" stroke="#111" stroke-width="1.0"/>
<line x1="60.60" y1="503.30" x2="63.20" y2="503.30" stroke="#111" stroke-width="1.0"/>
<line x1="60.60" y1="496.79" x2="63.20" y2="496.79" stroke="#111" stroke-width="1.0"/>
<line x1="60.60" y1="493.48" x2="63.20" y2="493.48" stroke="#111" stroke-width="1.0"/>
<line x1="60.60" y1="491.13" x2="63.20" y2="491.13" stroke="#111" stroke-width="1.0"/>
<line x1="60.60" y1="489.31" x2="63.20" y2="489.31" stroke="#111" stroke-width="1.0"/>
<line x1="60.60" y1="487.83" x2="63.20" y2="487.83" stroke="#111" stroke-width="1.0"/>
<line x1="60.60" y1="486.57" x2="63.20" y2="486.57" stroke="#111" stroke-width="1.0"/>
<line x1="60.60" y1="485.48" x2="63.20" y2="485.48" stroke="#111" stroke-width="1.0"/>
<line x1="60.60" y1="484.52" x2="63.20" y2="484.52" stroke="#111" stroke-width="1.0"/>
<line x1="60.60" y1="478.01" x2="63.20" y2="478.01" stroke="#111" stroke-width="1.0"/>
<line x1="60.60" y1="474.70" x2="63.20" y2="474.70" stroke="#111" stroke-width="1.0"/>
<line x1="60.60" y1="472.35" x2="63.20" y2="472.35" stroke="#111" stroke-width="1.0"/>
<line x1="60.60" y1="470.53" x2="63.20" y2="470.53" stroke="#111" stroke-width="1.0"/>
<line x1="60.60" y1="469.05" x2="63.20" y2="469.05" stroke="#111" stroke-width="1.0"/>
<line x1="60.60" y1="467.79" x2="63.20" y2="467.79" stroke="#111" stroke-width="1.0"/>
<line x1="60.60" y1="466.70" x2="63.20" y2="466.70" stroke="#111" stroke-width="1.0"/>
<line x1="60.60" y1="465.74" x2="63.20" y2="465.74" stroke="#111" stroke-width="1.0"/>
<line x1="60.60" y1="459.23" x2="63.20" y2="459.23" stroke="#111" stroke-width="1.0"/>
<line x1="60.60" y1="455.92" x2="63.20" y2="455.92" stroke="#111" stroke-width="1.0"/>
<line x1="60.60" y1="453.57" x2="63.20" y2="453.57" stroke="#111" stroke-width="1.0"/>
<line x1="60.60" y1="451.75" x2="63.20" y2="451.75" stroke="#111" stroke-width="1.0"/>
<line x1="60.60" y1="450.27" x2="63.20" y2="450.27" stroke="#111" stroke-width="1.0"/>
<line x1="60.60" y1="449.01" x2="63.20" y2="449.01" stroke="#111" stroke-width="1.0"/>
<line x1="60.60" y1="447.92" x2="63.20" y2="447.92" stroke="#111" stroke-width="1.0"/>
<line x1="60.60" y1="446.96" x2="63.20" y2="446.96" stroke="#111" stroke-width="1.0"/>
<line x1="60.60" y1="440.45" x2="63.20" y2="440.45" stroke="#111" stroke-width="1.0"/>
<line x1="60.60" y1="437.14" x2="63.20" y2="437.14" stroke="#111" stroke-width="1.0"/>
<line x1="60.60" y1="434.79" x2="63.20" y2="434.79" stroke="#111" stroke-width="1.0"/>
<line x1="60.60" y1="432.97" x2="63.20" y2="432.97" stroke="#111" stroke-width="1.0"/>
<line x1="60.60" y1="431.49" x2="63.20" y2="431.49" stroke="#111" stroke-width="1.0"/>
<line x1="60.60" y1="430.23" x2="63.20" y2="430.23" stroke="#111" stroke-width="1.0"/>
<line x1="60.60" y1="429.14" x2="63.20" y2="429.14" stroke="#111" stroke-width="1.0"/>
<line x1="60.60" y1="428.18" x2="63.20" y2="428.18" stroke="#111" stroke-width="1.0"/>
<line x1="63.20" y1="540.40" x2="63.20" y2="544.40" stroke="#111" stroke-width="1.4"/>
<text x="63.20" y="558.00" font-size="9.3" text-anchor="middle" font-family='"Liberation Sans", sans-serif' fill="#1a1a1a" textLength="4.6" lengthAdjust="spacingAndGlyphs" stroke="#1a1a1a" stroke-width="0.1">0</text>
<line x1="97.40" y1="540.40" x2="97.40" y2="544.40" stroke="#111" stroke-width="1.4"/>
<text x="97.40" y="558.00" font-size="9.3" text-anchor="middle" font-family='"Liberation Sans", sans-serif' fill="#1a1a1a" textLength="23.0" lengthAdjust="spacingAndGlyphs" stroke="#1a1a1a" stroke-width="0.1">10000</text>
<line x1="131.60" y1="540.40" x2="131.60" y2="544.40" stroke="#111" stroke-width="1.4"/>
<text x="131.60" y="558.00" font-size="9.3" text-anchor="middle" font-family='"Liberation Sans", sans-serif' fill="#1a1a1a" textLength="23.0" lengthAdjust="spacingAndGlyphs" stroke="#1a1a1a" stroke-width="0.1">20000</text>
<line x1="165.80" y1="540.40" x2="165.80" y2="544.40" stroke="#111" stroke-width="1.4"/>
<text x="165.80" y="558.00" font-size="9.3" text-anchor="middle" font-family='"Liberation Sans", sans-serif' fill="#1a1a1a" textLength="23.0" lengthAdjust="spacingAndGlyphs" stroke="#1a1a1a" stroke-width="0.1">30000</text>
<line x1="200.00" y1="540.40" x2="200.00" y2="544.40" stroke="#111" stroke-width="1.4"/>
<text x="200.00" y="558.00" font-size="9.3" text-anchor="middle" font-family='"Liberation Sans", sans-serif' fill="#1a1a1a" textLength="23.0" lengthAdjust="spacingAndGlyphs" stroke="#1a1a1a" stroke-width="0.1">40000</text>
<line x1="234.20" y1="540.40" x2="234.20" y2="544.40" stroke="#111" stroke-width="1.4"/>
<text x="234.20" y="558.00" font-size="9.3" text-anchor="middle" font-family='"Liberation Sans", sans-serif' fill="#1a1a1a" textLength="23.0" lengthAdjust="spacingAndGlyphs" stroke="#1a1a1a" stroke-width="0.1">50000</text>
<text x="150.35" y="576.60" font-size="11.8" text-anchor="middle" font-family='"Liberation Sans", sans-serif' fill="#111" textLength="79" lengthAdjust="spacingAndGlyphs" stroke="#111" stroke-width="0.2">MFI mito green</text>
<text x="32.20" y="481.25" font-size="11" text-anchor="middle" font-family='"Liberation Sans", sans-serif' fill="#111" textLength="76.1" lengthAdjust="spacingAndGlyphs" transform="rotate(-90 32.20 481.25)" stroke="#111" stroke-width="0.2">AUC (day 0-35)</text>
<circle cx="123.50" cy="443.80" r="2.5" fill="#c7c2c4"/>
<circle cx="146.50" cy="443.50" r="2.5" fill="#c7c2c4"/>
<circle cx="104.60" cy="453.80" r="2.5" fill="#c7c2c4"/>
<circle cx="125.80" cy="458.30" r="2.5" fill="#c7c2c4"/>
<circle cx="81.70" cy="480.40" r="2.5" fill="#c7c2c4"/>
<circle cx="108.50" cy="480.00" r="2.5" fill="#c7c2c4"/>
<circle cx="203.00" cy="454.00" r="2.5" fill="#c7c2c4"/>
<circle cx="82.50" cy="461.20" r="2.55" fill="none" stroke="#a0243a" stroke-width="1.2"/>
<circle cx="130.60" cy="465.00" r="2.55" fill="none" stroke="#a0243a" stroke-width="1.2"/>
<circle cx="114.20" cy="468.50" r="2.55" fill="none" stroke="#a0243a" stroke-width="1.2"/>
<circle cx="115.20" cy="478.50" r="2.55" fill="none" stroke="#a0243a" stroke-width="1.2"/>
<circle cx="82.70" cy="486.20" r="2.55" fill="none" stroke="#a0243a" stroke-width="1.2"/>
<circle cx="116.20" cy="485.60" r="2.55" fill="none" stroke="#a0243a" stroke-width="1.2"/>
<circle cx="118.30" cy="490.00" r="2.55" fill="none" stroke="#a0243a" stroke-width="1.2"/>
<circle cx="90.40" cy="490.60" r="2.55" fill="none" stroke="#a0243a" stroke-width="1.2"/>
<circle cx="155.70" cy="492.40" r="2.55" fill="none" stroke="#a0243a" stroke-width="1.2"/>
<circle cx="84.00" cy="496.20" r="2.55" fill="none" stroke="#a0243a" stroke-width="1.2"/>
<circle cx="78.70" cy="498.70" r="2.55" fill="none" stroke="#a0243a" stroke-width="1.2"/>
<circle cx="88.30" cy="497.70" r="2.55" fill="none" stroke="#a0243a" stroke-width="1.2"/>
<circle cx="81.50" cy="501.50" r="2.55" fill="none" stroke="#a0243a" stroke-width="1.2"/>
<circle cx="77.70" cy="502.50" r="2.55" fill="none" stroke="#a0243a" stroke-width="1.2"/>
<circle cx="83.50" cy="504.80" r="2.55" fill="none" stroke="#a0243a" stroke-width="1.2"/>
<circle cx="77.90" cy="512.50" r="2.55" fill="none" stroke="#a0243a" stroke-width="1.2"/>
<circle cx="125.40" cy="507.90" r="2.55" fill="none" stroke="#a0243a" stroke-width="1.2"/>
<circle cx="72.50" cy="529.40" r="2.55" fill="none" stroke="#a0243a" stroke-width="1.2"/>
<circle cx="80.80" cy="527.90" r="2.55" fill="none" stroke="#a0243a" stroke-width="1.2"/>
<circle cx="86.90" cy="534.60" r="2.55" fill="none" stroke="#a0243a" stroke-width="1.2"/>
<text x="178.10" y="521.00" font-size="7.6" text-anchor="start" font-family='"Liberation Serif", serif' fill="#222" textLength="23.1" lengthAdjust="spacingAndGlyphs" stroke="#222" stroke-width="0.15">p=0.02</text>
<text x="178.10" y="533.70" font-size="7.6" text-anchor="start" font-family='"Liberation Serif", serif' fill="#222" textLength="38.1" lengthAdjust="spacingAndGlyphs" stroke="#222" stroke-width="0.15">Rho: 0.4317</text>
<line x1="312.30" y1="413.00" x2="312.30" y2="541.00" stroke="#111" stroke-width="1.4"/>
<line x1="311.60" y1="540.30" x2="500.90" y2="540.30" stroke="#111" stroke-width="1.4"/>
<line x1="307.30" y1="540.20" x2="312.30" y2="540.20" stroke="#111" stroke-width="1.4"/>
<text x="302.70" y="543.40" font-size="9.3" text-anchor="end" font-family='"Liberation Sans", sans-serif' fill="#1a1a1a" textLength="4.5" lengthAdjust="spacingAndGlyphs" stroke="#1a1a1a" stroke-width="0.1">0</text>
<line x1="307.30" y1="515.60" x2="312.30" y2="515.60" stroke="#111" stroke-width="1.4"/>
<text x="302.70" y="518.80" font-size="9.3" text-anchor="end" font-family='"Liberation Sans", sans-serif' fill="#1a1a1a" textLength="9.0" lengthAdjust="spacingAndGlyphs" stroke="#1a1a1a" stroke-width="0.1">20</text>
<line x1="307.30" y1="491.00" x2="312.30" y2="491.00" stroke="#111" stroke-width="1.4"/>
<text x="302.70" y="494.20" font-size="9.3" text-anchor="end" font-family='"Liberation Sans", sans-serif' fill="#1a1a1a" textLength="9.0" lengthAdjust="spacingAndGlyphs" stroke="#1a1a1a" stroke-width="0.1">40</text>
<line x1="307.30" y1="466.40" x2="312.30" y2="466.40" stroke="#111" stroke-width="1.4"/>
<text x="302.70" y="469.60" font-size="9.3" text-anchor="end" font-family='"Liberation Sans", sans-serif' fill="#1a1a1a" textLength="9.0" lengthAdjust="spacingAndGlyphs" stroke="#1a1a1a" stroke-width="0.1">60</text>
<line x1="307.30" y1="441.80" x2="312.30" y2="441.80" stroke="#111" stroke-width="1.4"/>
<text x="302.70" y="445.00" font-size="9.3" text-anchor="end" font-family='"Liberation Sans", sans-serif' fill="#1a1a1a" textLength="9.0" lengthAdjust="spacingAndGlyphs" stroke="#1a1a1a" stroke-width="0.1">80</text>
<line x1="307.30" y1="417.20" x2="312.30" y2="417.20" stroke="#111" stroke-width="1.4"/>
<text x="302.70" y="420.40" font-size="9.3" text-anchor="end" font-family='"Liberation Sans", sans-serif' fill="#1a1a1a" textLength="13.5" lengthAdjust="spacingAndGlyphs" stroke="#1a1a1a" stroke-width="0.1">100</text>
<line x1="312.30" y1="540.30" x2="312.30" y2="544.30" stroke="#111" stroke-width="1.4"/>
<text x="312.30" y="557.80" font-size="9.3" text-anchor="middle" font-family='"Liberation Sans", sans-serif' fill="#1a1a1a" textLength="4.6" lengthAdjust="spacingAndGlyphs" stroke="#1a1a1a" stroke-width="0.1">0</text>
<line x1="349.10" y1="540.30" x2="349.10" y2="544.30" stroke="#111" stroke-width="1.4"/>
<text x="349.10" y="557.80" font-size="9.3" text-anchor="middle" font-family='"Liberation Sans", sans-serif' fill="#1a1a1a" textLength="23.0" lengthAdjust="spacingAndGlyphs" stroke="#1a1a1a" stroke-width="0.1">10000</text>
<line x1="385.90" y1="540.30" x2="385.90" y2="544.30" stroke="#111" stroke-width="1.4"/>
<text x="385.90" y="557.80" font-size="9.3" text-anchor="middle" font-family='"Liberation Sans", sans-serif' fill="#1a1a1a" textLength="23.0" lengthAdjust="spacingAndGlyphs" stroke="#1a1a1a" stroke-width="0.1">20000</text>
<line x1="422.70" y1="540.30" x2="422.70" y2="544.30" stroke="#111" stroke-width="1.4"/>
<text x="422.70" y="557.80" font-size="9.3" text-anchor="middle" font-family='"Liberation Sans", sans-serif' fill="#1a1a1a" textLength="23.0" lengthAdjust="spacingAndGlyphs" stroke="#1a1a1a" stroke-width="0.1">30000</text>
<line x1="459.50" y1="540.30" x2="459.50" y2="544.30" stroke="#111" stroke-width="1.4"/>
<text x="459.50" y="557.80" font-size="9.3" text-anchor="middle" font-family='"Liberation Sans", sans-serif' fill="#1a1a1a" textLength="23.0" lengthAdjust="spacingAndGlyphs" stroke="#1a1a1a" stroke-width="0.1">40000</text>
<line x1="496.30" y1="540.30" x2="496.30" y2="544.30" stroke="#111" stroke-width="1.4"/>
<text x="496.30" y="557.80" font-size="9.3" text-anchor="middle" font-family='"Liberation Sans", sans-serif' fill="#1a1a1a" textLength="23.0" lengthAdjust="spacingAndGlyphs" stroke="#1a1a1a" stroke-width="0.1">50000</text>
<text x="406.60" y="576.10" font-size="11.8" text-anchor="middle" font-family='"Liberation Sans", sans-serif' fill="#111" textLength="79" lengthAdjust="spacingAndGlyphs" stroke="#111" stroke-width="0.2">MFI mito green</text>
<text x="279.30" y="476.70" font-size="11" text-anchor="middle" font-family='"Liberation Sans", sans-serif' fill="#111" textLength="131.6" lengthAdjust="spacingAndGlyphs" transform="rotate(-90 279.30 476.70)" stroke="#111" stroke-width="0.2">CD3+ CD8+ peak (d0-28)</text>
<circle cx="377.20" cy="425.90" r="2.5" fill="#c7c2c4"/>
<circle cx="357.60" cy="444.70" r="2.5" fill="#c7c2c4"/>
<circle cx="380.20" cy="442.80" r="2.5" fill="#c7c2c4"/>
<circle cx="402.60" cy="453.00" r="2.5" fill="#c7c2c4"/>
<circle cx="361.20" cy="480.30" r="2.5" fill="#c7c2c4"/>
<circle cx="464.00" cy="437.80" r="2.5" fill="#c7c2c4"/>
<circle cx="369.80" cy="434.80" r="2.55" fill="none" stroke="#a0243a" stroke-width="1.2"/>
<circle cx="385.10" cy="446.00" r="2.55" fill="none" stroke="#a0243a" stroke-width="1.2"/>
<circle cx="333.30" cy="470.70" r="2.55" fill="none" stroke="#a0243a" stroke-width="1.2"/>
<circle cx="333.70" cy="473.30" r="2.55" fill="none" stroke="#a0243a" stroke-width="1.2"/>
<circle cx="331.10" cy="475.60" r="2.55" fill="none" stroke="#a0243a" stroke-width="1.2"/>
<circle cx="339.60" cy="481.30" r="2.55" fill="none" stroke="#a0243a" stroke-width="1.2"/>
<circle cx="322.70" cy="491.90" r="2.55" fill="none" stroke="#a0243a" stroke-width="1.2"/>
<circle cx="331.80" cy="492.30" r="2.55" fill="none" stroke="#a0243a" stroke-width="1.2"/>
<circle cx="367.10" cy="488.70" r="2.55" fill="none" stroke="#a0243a" stroke-width="1.2"/>
<circle cx="368.80" cy="492.90" r="2.55" fill="none" stroke="#a0243a" stroke-width="1.2"/>
<circle cx="379.30" cy="489.30" r="2.55" fill="none" stroke="#a0243a" stroke-width="1.2"/>
<circle cx="412.70" cy="491.10" r="2.55" fill="none" stroke="#a0243a" stroke-width="1.2"/>
<circle cx="334.30" cy="501.40" r="2.55" fill="none" stroke="#a0243a" stroke-width="1.2"/>
<circle cx="341.70" cy="502.00" r="2.55" fill="none" stroke="#a0243a" stroke-width="1.2"/>
<circle cx="329.00" cy="504.60" r="2.55" fill="none" stroke="#a0243a" stroke-width="1.2"/>
<circle cx="328.00" cy="507.70" r="2.55" fill="none" stroke="#a0243a" stroke-width="1.2"/>
<circle cx="337.50" cy="517.70" r="2.55" fill="none" stroke="#a0243a" stroke-width="1.2"/>
<circle cx="328.40" cy="524.00" r="2.55" fill="none" stroke="#a0243a" stroke-width="1.2"/>
<text x="438.10" y="521.00" font-size="7.6" text-anchor="start" font-family='"Liberation Serif", serif' fill="#222" textLength="26.9" lengthAdjust="spacingAndGlyphs" stroke="#222" stroke-width="0.15">p=0.003</text>
<text x="438.10" y="534.00" font-size="7.6" text-anchor="start" font-family='"Liberation Serif", serif' fill="#222" textLength="38.6" lengthAdjust="spacingAndGlyphs" stroke="#222" stroke-width="0.15">Rho: 0.5797</text>
<line x1="63.20" y1="616.20" x2="63.20" y2="743.70" stroke="#111" stroke-width="1.4"/>
<line x1="62.50" y1="743.00" x2="252.50" y2="743.00" stroke="#111" stroke-width="1.4"/>
<line x1="58.20" y1="742.70" x2="63.20" y2="742.70" stroke="#111" stroke-width="1.4"/>
<text x="53.60" y="745.90" font-size="9.3" text-anchor="end" font-family='"Liberation Sans", sans-serif' fill="#1a1a1a" textLength="4.5" lengthAdjust="spacingAndGlyphs" stroke="#1a1a1a" stroke-width="0.1">0</text>
<line x1="58.20" y1="718.26" x2="63.20" y2="718.26" stroke="#111" stroke-width="1.4"/>
<text x="53.60" y="721.46" font-size="9.3" text-anchor="end" font-family='"Liberation Sans", sans-serif' fill="#1a1a1a" textLength="9.0" lengthAdjust="spacingAndGlyphs" stroke="#1a1a1a" stroke-width="0.1">20</text>
<line x1="58.20" y1="693.82" x2="63.20" y2="693.82" stroke="#111" stroke-width="1.4"/>
<text x="53.60" y="697.02" font-size="9.3" text-anchor="end" font-family='"Liberation Sans", sans-serif' fill="#1a1a1a" textLength="9.0" lengthAdjust="spacingAndGlyphs" stroke="#1a1a1a" stroke-width="0.1">40</text>
<line x1="58.20" y1="669.38" x2="63.20" y2="669.38" stroke="#111" stroke-width="1.4"/>
<text x="53.60" y="672.58" font-size="9.3" text-anchor="end" font-family='"Liberation Sans", sans-serif' fill="#1a1a1a" textLength="9.0" lengthAdjust="spacingAndGlyphs" stroke="#1a1a1a" stroke-width="0.1">60</text>
<line x1="58.20" y1="644.94" x2="63.20" y2="644.94" stroke="#111" stroke-width="1.4"/>
<text x="53.60" y="648.14" font-size="9.3" text-anchor="end" font-family='"Liberation Sans", sans-serif' fill="#1a1a1a" textLength="9.0" lengthAdjust="spacingAndGlyphs" stroke="#1a1a1a" stroke-width="0.1">80</text>
<line x1="58.20" y1="620.50" x2="63.20" y2="620.50" stroke="#111" stroke-width="1.4"/>
<text x="53.60" y="623.70" font-size="9.3" text-anchor="end" font-family='"Liberation Sans", sans-serif' fill="#1a1a1a" textLength="13.5" lengthAdjust="spacingAndGlyphs" stroke="#1a1a1a" stroke-width="0.1">100</text>
<line x1="63.20" y1="743.00" x2="63.20" y2="747.00" stroke="#111" stroke-width="1.4"/>
<text x="63.20" y="760.70" font-size="9.3" text-anchor="middle" font-family='"Liberation Sans", sans-serif' fill="#1a1a1a" textLength="4.6" lengthAdjust="spacingAndGlyphs" stroke="#1a1a1a" stroke-width="0.1">0</text>
<line x1="100.00" y1="743.00" x2="100.00" y2="747.00" stroke="#111" stroke-width="1.4"/>
<text x="100.00" y="760.70" font-size="9.3" text-anchor="middle" font-family='"Liberation Sans", sans-serif' fill="#1a1a1a" textLength="23.0" lengthAdjust="spacingAndGlyphs" stroke="#1a1a1a" stroke-width="0.1">10000</text>
<line x1="136.80" y1="743.00" x2="136.80" y2="747.00" stroke="#111" stroke-width="1.4"/>
<text x="136.80" y="760.70" font-size="9.3" text-anchor="middle" font-family='"Liberation Sans", sans-serif' fill="#1a1a1a" textLength="23.0" lengthAdjust="spacingAndGlyphs" stroke="#1a1a1a" stroke-width="0.1">20000</text>
<line x1="173.60" y1="743.00" x2="173.60" y2="747.00" stroke="#111" stroke-width="1.4"/>
<text x="173.60" y="760.70" font-size="9.3" text-anchor="middle" font-family='"Liberation Sans", sans-serif' fill="#1a1a1a" textLength="23.0" lengthAdjust="spacingAndGlyphs" stroke="#1a1a1a" stroke-width="0.1">30000</text>
<line x1="210.40" y1="743.00" x2="210.40" y2="747.00" stroke="#111" stroke-width="1.4"/>
<text x="210.40" y="760.70" font-size="9.3" text-anchor="middle" font-family='"Liberation Sans", sans-serif' fill="#1a1a1a" textLength="23.0" lengthAdjust="spacingAndGlyphs" stroke="#1a1a1a" stroke-width="0.1">40000</text>
<line x1="247.20" y1="743.00" x2="247.20" y2="747.00" stroke="#111" stroke-width="1.4"/>
<text x="247.20" y="760.70" font-size="9.3" text-anchor="middle" font-family='"Liberation Sans", sans-serif' fill="#1a1a1a" textLength="23.0" lengthAdjust="spacingAndGlyphs" stroke="#1a1a1a" stroke-width="0.1">50000</text>
<text x="157.85" y="778.30" font-size="11.8" text-anchor="middle" font-family='"Liberation Sans", sans-serif' fill="#111" textLength="79" lengthAdjust="spacingAndGlyphs" stroke="#111" stroke-width="0.2">MFI mito green</text>
<text x="30.00" y="679.30" font-size="11" text-anchor="middle" font-family='"Liberation Sans", sans-serif' fill="#111" textLength="47.6" lengthAdjust="spacingAndGlyphs" transform="rotate(-90 30.00 679.30)" stroke="#111" stroke-width="0.2">% CD27+</text>
<circle cx="128.30" cy="643.00" r="2.5" fill="#c7c2c4"/>
<circle cx="108.10" cy="659.40" r="2.5" fill="#c7c2c4"/>
<circle cx="112.30" cy="662.90" r="2.5" fill="#c7c2c4"/>
<circle cx="131.20" cy="659.80" r="2.5" fill="#c7c2c4"/>
<circle cx="153.90" cy="661.10" r="2.5" fill="#c7c2c4"/>
<circle cx="215.10" cy="637.30" r="2.5" fill="#c7c2c4"/>
<circle cx="80.20" cy="635.00" r="2.55" fill="none" stroke="#a0243a" stroke-width="1.2"/>
<circle cx="84.00" cy="640.80" r="2.55" fill="none" stroke="#a0243a" stroke-width="1.2"/>
<circle cx="118.70" cy="641.70" r="2.55" fill="none" stroke="#a0243a" stroke-width="1.2"/>
<circle cx="131.20" cy="642.70" r="2.55" fill="none" stroke="#a0243a" stroke-width="1.2"/>
<circle cx="90.20" cy="654.60" r="2.55" fill="none" stroke="#a0243a" stroke-width="1.2"/>
<circle cx="88.80" cy="660.00" r="2.55" fill="none" stroke="#a0243a" stroke-width="1.2"/>
<circle cx="82.70" cy="661.30" r="2.55" fill="none" stroke="#a0243a" stroke-width="1.2"/>
<circle cx="136.50" cy="659.00" r="2.55" fill="none" stroke="#a0243a" stroke-width="1.2"/>
<circle cx="121.00" cy="665.20" r="2.55" fill="none" stroke="#a0243a" stroke-width="1.2"/>
<circle cx="85.00" cy="667.70" r="2.55" fill="none" stroke="#a0243a" stroke-width="1.2"/>
<circle cx="79.20" cy="672.90" r="2.55" fill="none" stroke="#a0243a" stroke-width="1.2"/>
<circle cx="79.20" cy="678.10" r="2.55" fill="none" stroke="#a0243a" stroke-width="1.2"/>
<circle cx="84.60" cy="680.00" r="2.55" fill="none" stroke="#a0243a" stroke-width="1.2"/>
<circle cx="120.00" cy="674.80" r="2.55" fill="none" stroke="#a0243a" stroke-width="1.2"/>
<circle cx="93.10" cy="697.50" r="2.55" fill="none" stroke="#a0243a" stroke-width="1.2"/>
<circle cx="73.50" cy="703.10" r="2.55" fill="none" stroke="#a0243a" stroke-width="1.2"/>
<circle cx="82.50" cy="724.80" r="2.55" fill="none" stroke="#a0243a" stroke-width="1.2"/>
<circle cx="163.80" cy="685.80" r="2.55" fill="none" stroke="#a0243a" stroke-width="1.2"/>
<line x1="312.30" y1="616.20" x2="312.30" y2="743.70" stroke="#111" stroke-width="1.4"/>
<line x1="311.60" y1="743.00" x2="500.50" y2="743.00" stroke="#111" stroke-width="1.4"/>
<line x1="307.30" y1="742.70" x2="312.30" y2="742.70" stroke="#111" stroke-width="1.4"/>
<text x="302.70" y="745.90" font-size="9.3" text-anchor="end" font-family='"Liberation Sans", sans-serif' fill="#1a1a1a" textLength="4.5" lengthAdjust="spacingAndGlyphs" stroke="#1a1a1a" stroke-width="0.1">0</text>
<line x1="307.30" y1="712.10" x2="312.30" y2="712.10" stroke="#111" stroke-width="1.4"/>
<text x="302.70" y="715.30" font-size="9.3" text-anchor="end" font-family='"Liberation Sans", sans-serif' fill="#1a1a1a" textLength="9.0" lengthAdjust="spacingAndGlyphs" stroke="#1a1a1a" stroke-width="0.1">20</text>
<line x1="307.30" y1="681.50" x2="312.30" y2="681.50" stroke="#111" stroke-width="1.4"/>
<text x="302.70" y="684.70" font-size="9.3" text-anchor="end" font-family='"Liberation Sans", sans-serif' fill="#1a1a1a" textLength="9.0" lengthAdjust="spacingAndGlyphs" stroke="#1a1a1a" stroke-width="0.1">40</text>
<line x1="307.30" y1="650.90" x2="312.30" y2="650.90" stroke="#111" stroke-width="1.4"/>
<text x="302.70" y="654.10" font-size="9.3" text-anchor="end" font-family='"Liberation Sans", sans-serif' fill="#1a1a1a" textLength="9.0" lengthAdjust="spacingAndGlyphs" stroke="#1a1a1a" stroke-width="0.1">60</text>
<line x1="307.30" y1="620.30" x2="312.30" y2="620.30" stroke="#111" stroke-width="1.4"/>
<text x="302.70" y="623.50" font-size="9.3" text-anchor="end" font-family='"Liberation Sans", sans-serif' fill="#1a1a1a" textLength="9.0" lengthAdjust="spacingAndGlyphs" stroke="#1a1a1a" stroke-width="0.1">80</text>
<line x1="312.30" y1="743.00" x2="312.30" y2="747.00" stroke="#111" stroke-width="1.4"/>
<text x="312.30" y="760.70" font-size="9.3" text-anchor="middle" font-family='"Liberation Sans", sans-serif' fill="#1a1a1a" textLength="4.6" lengthAdjust="spacingAndGlyphs" stroke="#1a1a1a" stroke-width="0.1">0</text>
<line x1="349.10" y1="743.00" x2="349.10" y2="747.00" stroke="#111" stroke-width="1.4"/>
<text x="349.10" y="760.70" font-size="9.3" text-anchor="middle" font-family='"Liberation Sans", sans-serif' fill="#1a1a1a" textLength="23.0" lengthAdjust="spacingAndGlyphs" stroke="#1a1a1a" stroke-width="0.1">10000</text>
<line x1="385.90" y1="743.00" x2="385.90" y2="747.00" stroke="#111" stroke-width="1.4"/>
<text x="385.90" y="760.70" font-size="9.3" text-anchor="middle" font-family='"Liberation Sans", sans-serif' fill="#1a1a1a" textLength="23.0" lengthAdjust="spacingAndGlyphs" stroke="#1a1a1a" stroke-width="0.1">20000</text>
<line x1="422.70" y1="743.00" x2="422.70" y2="747.00" stroke="#111" stroke-width="1.4"/>
<text x="422.70" y="760.70" font-size="9.3" text-anchor="middle" font-family='"Liberation Sans", sans-serif' fill="#1a1a1a" textLength="23.0" lengthAdjust="spacingAndGlyphs" stroke="#1a1a1a" stroke-width="0.1">30000</text>
<line x1="459.50" y1="743.00" x2="459.50" y2="747.00" stroke="#111" stroke-width="1.4"/>
<text x="459.50" y="760.70" font-size="9.3" text-anchor="middle" font-family='"Liberation Sans", sans-serif' fill="#1a1a1a" textLength="23.0" lengthAdjust="spacingAndGlyphs" stroke="#1a1a1a" stroke-width="0.1">40000</text>
<line x1="496.30" y1="743.00" x2="496.30" y2="747.00" stroke="#111" stroke-width="1.4"/>
<text x="496.30" y="760.70" font-size="9.3" text-anchor="middle" font-family='"Liberation Sans", sans-serif' fill="#1a1a1a" textLength="23.0" lengthAdjust="spacingAndGlyphs" stroke="#1a1a1a" stroke-width="0.1">50000</text>
<text x="406.40" y="778.30" font-size="11.8" text-anchor="middle" font-family='"Liberation Sans", sans-serif' fill="#111" textLength="79" lengthAdjust="spacingAndGlyphs" stroke="#111" stroke-width="0.2">MFI mito green</text>
<text x="284.30" y="679.35" font-size="11" text-anchor="middle" font-family='"Liberation Sans", sans-serif' fill="#111" textLength="77.1" lengthAdjust="spacingAndGlyphs" transform="rotate(-90 284.30 679.35)" stroke="#111" stroke-width="0.2">% CD27+ PD1-</text>
<circle cx="377.20" cy="655.90" r="2.5" fill="#c7c2c4"/>
<circle cx="402.80" cy="692.70" r="2.5" fill="#c7c2c4"/>
<circle cx="380.20" cy="698.80" r="2.5" fill="#c7c2c4"/>
<circle cx="361.20" cy="702.00" r="2.5" fill="#c7c2c4"/>
<circle cx="357.60" cy="712.50" r="2.5" fill="#c7c2c4"/>
<circle cx="464.00" cy="654.60" r="2.5" fill="#c7c2c4"/>
<circle cx="379.30" cy="710.20" r="2.55" fill="none" stroke="#a0243a" stroke-width="1.2"/>
<circle cx="367.50" cy="712.10" r="2.55" fill="none" stroke="#a0243a" stroke-width="1.2"/>
<circle cx="337.50" cy="716.50" r="2.55" fill="none" stroke="#a0243a" stroke-width="1.2"/>
<circle cx="332.80" cy="719.90" r="2.55" fill="none" stroke="#a0243a" stroke-width="1.2"/>
<circle cx="368.80" cy="721.00" r="2.55" fill="none" stroke="#a0243a" stroke-width="1.2"/>
<circle cx="328.40" cy="727.30" r="2.55" fill="none" stroke="#a0243a" stroke-width="1.2"/>
<circle cx="333.70" cy="726.70" r="2.55" fill="none" stroke="#a0243a" stroke-width="1.2"/>
<circle cx="339.60" cy="728.80" r="2.55" fill="none" stroke="#a0243a" stroke-width="1.2"/>
<circle cx="328.40" cy="731.50" r="2.55" fill="none" stroke="#a0243a" stroke-width="1.2"/>
<circle cx="333.70" cy="730.90" r="2.55" fill="none" stroke="#a0243a" stroke-width="1.2"/>
<circle cx="342.10" cy="731.30" r="2.55" fill="none" stroke="#a0243a" stroke-width="1.2"/>
<circle cx="412.70" cy="730.40" r="2.55" fill="none" stroke="#a0243a" stroke-width="1.2"/>
<circle cx="322.70" cy="737.30" r="2.55" fill="none" stroke="#a0243a" stroke-width="1.2"/>
<circle cx="331.80" cy="738.30" r="2.55" fill="none" stroke="#a0243a" stroke-width="1.2"/>
<circle cx="369.80" cy="736.80" r="2.55" fill="none" stroke="#a0243a" stroke-width="1.2"/>
<circle cx="385.10" cy="738.30" r="2.55" fill="none" stroke="#a0243a" stroke-width="1.2"/>
<circle cx="331.10" cy="741.50" r="2.55" fill="none" stroke="#a0243a" stroke-width="1.2"/>
<text x="438.00" y="724.00" font-size="7.6" text-anchor="start" font-family='"Liberation Serif", serif' fill="#222" textLength="30.8" lengthAdjust="spacingAndGlyphs" stroke="#222" stroke-width="0.15">p=0.0004</text>
<text x="438.00" y="736.40" font-size="7.6" text-anchor="start" font-family='"Liberation Serif", serif' fill="#222" textLength="38.7" lengthAdjust="spacingAndGlyphs" stroke="#222" stroke-width="0.15">Rho: 0.6609</text>
<line x1="63.20" y1="795.00" x2="63.20" y2="923.10" stroke="#111" stroke-width="1.4"/>
<line x1="62.50" y1="922.40" x2="252.00" y2="922.40" stroke="#111" stroke-width="1.4"/>
<line x1="58.20" y1="922.50" x2="63.20" y2="922.50" stroke="#111" stroke-width="1.4"/>
<text x="53.60" y="925.70" font-size="9.3" text-anchor="end" font-family='"Liberation Sans", sans-serif' fill="#1a1a1a" textLength="4.5" lengthAdjust="spacingAndGlyphs" stroke="#1a1a1a" stroke-width="0.1">0</text>
<line x1="58.20" y1="897.94" x2="63.20" y2="897.94" stroke="#111" stroke-width="1.4"/>
<text x="53.60" y="901.14" font-size="9.3" text-anchor="end" font-family='"Liberation Sans", sans-serif' fill="#1a1a1a" textLength="4.5" lengthAdjust="spacingAndGlyphs" stroke="#1a1a1a" stroke-width="0.1">2</text>
<line x1="58.20" y1="873.38" x2="63.20" y2="873.38" stroke="#111" stroke-width="1.4"/>
<text x="53.60" y="876.58" font-size="9.3" text-anchor="end" font-family='"Liberation Sans", sans-serif' fill="#1a1a1a" textLength="4.5" lengthAdjust="spacingAndGlyphs" stroke="#1a1a1a" stroke-width="0.1">4</text>
<line x1="58.20" y1="848.82" x2="63.20" y2="848.82" stroke="#111" stroke-width="1.4"/>
<text x="53.60" y="852.02" font-size="9.3" text-anchor="end" font-family='"Liberation Sans", sans-serif' fill="#1a1a1a" textLength="4.5" lengthAdjust="spacingAndGlyphs" stroke="#1a1a1a" stroke-width="0.1">6</text>
<line x1="58.20" y1="824.26" x2="63.20" y2="824.26" stroke="#111" stroke-width="1.4"/>
<text x="53.60" y="827.46" font-size="9.3" text-anchor="end" font-family='"Liberation Sans", sans-serif' fill="#1a1a1a" textLength="4.5" lengthAdjust="spacingAndGlyphs" stroke="#1a1a1a" stroke-width="0.1">8</text>
<line x1="58.20" y1="799.70" x2="63.20" y2="799.70" stroke="#111" stroke-width="1.4"/>
<text x="53.60" y="802.90" font-size="9.3" text-anchor="end" font-family='"Liberation Sans", sans-serif' fill="#1a1a1a" textLength="9.0" lengthAdjust="spacingAndGlyphs" stroke="#1a1a1a" stroke-width="0.1">10</text>
<line x1="63.20" y1="922.40" x2="63.20" y2="926.40" stroke="#111" stroke-width="1.4"/>
<text x="63.20" y="939.60" font-size="9.3" text-anchor="middle" font-family='"Liberation Sans", sans-serif' fill="#1a1a1a" textLength="4.6" lengthAdjust="spacingAndGlyphs" stroke="#1a1a1a" stroke-width="0.1">0</text>
<line x1="100.00" y1="922.40" x2="100.00" y2="926.40" stroke="#111" stroke-width="1.4"/>
<text x="100.00" y="939.60" font-size="9.3" text-anchor="middle" font-family='"Liberation Sans", sans-serif' fill="#1a1a1a" textLength="23.0" lengthAdjust="spacingAndGlyphs" stroke="#1a1a1a" stroke-width="0.1">10000</text>
<line x1="136.80" y1="922.40" x2="136.80" y2="926.40" stroke="#111" stroke-width="1.4"/>
<text x="136.80" y="939.60" font-size="9.3" text-anchor="middle" font-family='"Liberation Sans", sans-serif' fill="#1a1a1a" textLength="23.0" lengthAdjust="spacingAndGlyphs" stroke="#1a1a1a" stroke-width="0.1">20000</text>
<line x1="173.60" y1="922.40" x2="173.60" y2="926.40" stroke="#111" stroke-width="1.4"/>
<text x="173.60" y="939.60" font-size="9.3" text-anchor="middle" font-family='"Liberation Sans", sans-serif' fill="#1a1a1a" textLength="23.0" lengthAdjust="spacingAndGlyphs" stroke="#1a1a1a" stroke-width="0.1">30000</text>
<line x1="210.40" y1="922.40" x2="210.40" y2="926.40" stroke="#111" stroke-width="1.4"/>
<text x="210.40" y="939.60" font-size="9.3" text-anchor="middle" font-family='"Liberation Sans", sans-serif' fill="#1a1a1a" textLength="23.0" lengthAdjust="spacingAndGlyphs" stroke="#1a1a1a" stroke-width="0.1">40000</text>
<line x1="247.20" y1="922.40" x2="247.20" y2="926.40" stroke="#111" stroke-width="1.4"/>
<text x="247.20" y="939.60" font-size="9.3" text-anchor="middle" font-family='"Liberation Sans", sans-serif' fill="#1a1a1a" textLength="23.0" lengthAdjust="spacingAndGlyphs" stroke="#1a1a1a" stroke-width="0.1">50000</text>
<text x="157.60" y="956.50" font-size="11.8" text-anchor="middle" font-family='"Liberation Sans", sans-serif' fill="#111" textLength="79" lengthAdjust="spacingAndGlyphs" stroke="#111" stroke-width="0.2">MFI mito green</text>
<text x="35.30" y="858.30" font-size="11" text-anchor="middle" font-family='"Liberation Sans", sans-serif' fill="#111" textLength="80.6" lengthAdjust="spacingAndGlyphs" transform="rotate(-90 35.30 858.30)" stroke="#111" stroke-width="0.2">% CD27 +TIM3-</text>
<circle cx="153.70" cy="848.30" r="2.5" fill="#c7c2c4"/>
<circle cx="131.20" cy="891.90" r="2.5" fill="#c7c2c4"/>
<circle cx="111.90" cy="899.20" r="2.5" fill="#c7c2c4"/>
<circle cx="128.30" cy="915.60" r="2.5" fill="#c7c2c4"/>
<circle cx="108.50" cy="917.10" r="2.5" fill="#c7c2c4"/>
<circle cx="214.60" cy="815.50" r="2.5" fill="#c7c2c4"/>
<circle cx="130.60" cy="847.90" r="2.55" fill="none" stroke="#a0243a" stroke-width="1.2"/>
<circle cx="78.80" cy="902.10" r="2.55" fill="none" stroke="#a0243a" stroke-width="1.2"/>
<circle cx="79.80" cy="904.60" r="2.55" fill="none" stroke="#a0243a" stroke-width="1.2"/>
<circle cx="88.50" cy="904.60" r="2.55" fill="none" stroke="#a0243a" stroke-width="1.2"/>
<circle cx="93.10" cy="906.00" r="2.55" fill="none" stroke="#a0243a" stroke-width="1.2"/>
<circle cx="82.70" cy="909.80" r="2.55" fill="none" stroke="#a0243a" stroke-width="1.2"/>
<circle cx="120.00" cy="911.70" r="2.55" fill="none" stroke="#a0243a" stroke-width="1.2"/>
<circle cx="84.40" cy="913.30" r="2.55" fill="none" stroke="#a0243a" stroke-width="1.2"/>
<circle cx="78.80" cy="915.20" r="2.55" fill="none" stroke="#a0243a" stroke-width="1.2"/>
<circle cx="85.40" cy="914.60" r="2.55" fill="none" stroke="#a0243a" stroke-width="1.2"/>
<circle cx="118.70" cy="916.50" r="2.55" fill="none" stroke="#a0243a" stroke-width="1.2"/>
<circle cx="82.70" cy="918.50" r="2.55" fill="none" stroke="#a0243a" stroke-width="1.2"/>
<circle cx="85.40" cy="918.10" r="2.55" fill="none" stroke="#a0243a" stroke-width="1.2"/>
<circle cx="73.50" cy="921.70" r="2.55" fill="none" stroke="#a0243a" stroke-width="1.2"/>
<circle cx="90.20" cy="922.30" r="2.55" fill="none" stroke="#a0243a" stroke-width="1.2"/>
<circle cx="120.60" cy="922.30" r="2.55" fill="none" stroke="#a0243a" stroke-width="1.2"/>
<circle cx="136.30" cy="921.30" r="2.55" fill="none" stroke="#a0243a" stroke-width="1.2"/>
<circle cx="163.60" cy="894.20" r="2.55" fill="none" stroke="#a0243a" stroke-width="1.2"/>
<text x="189.00" y="903.40" font-size="7.6" text-anchor="start" font-family='"Liberation Serif", serif' fill="#222" textLength="30.8" lengthAdjust="spacingAndGlyphs" stroke="#222" stroke-width="0.15">p=0.0001</text>
<text x="189.00" y="915.70" font-size="7.6" text-anchor="start" font-family='"Liberation Serif", serif' fill="#222" textLength="38.3" lengthAdjust="spacingAndGlyphs" stroke="#222" stroke-width="0.15">Rho: 0.7251</text>
<line x1="312.30" y1="795.40" x2="312.30" y2="922.70" stroke="#111" stroke-width="1.4"/>
<line x1="311.60" y1="922.00" x2="500.50" y2="922.00" stroke="#111" stroke-width="1.4"/>
<line x1="307.30" y1="922.70" x2="312.30" y2="922.70" stroke="#111" stroke-width="1.4"/>
<text x="302.70" y="925.90" font-size="9.3" text-anchor="end" font-family='"Liberation Sans", sans-serif' fill="#1a1a1a" textLength="4.5" lengthAdjust="spacingAndGlyphs" stroke="#1a1a1a" stroke-width="0.1">0</text>
<line x1="307.30" y1="891.90" x2="312.30" y2="891.90" stroke="#111" stroke-width="1.4"/>
<text x="302.70" y="895.10" font-size="9.3" text-anchor="end" font-family='"Liberation Sans", sans-serif' fill="#1a1a1a" textLength="9.0" lengthAdjust="spacingAndGlyphs" stroke="#1a1a1a" stroke-width="0.1">20</text>
<line x1="307.30" y1="861.10" x2="312.30" y2="861.10" stroke="#111" stroke-width="1.4"/>
<text x="302.70" y="864.30" font-size="9.3" text-anchor="end" font-family='"Liberation Sans", sans-serif' fill="#1a1a1a" textLength="9.0" lengthAdjust="spacingAndGlyphs" stroke="#1a1a1a" stroke-width="0.1">40</text>
<line x1="307.30" y1="830.30" x2="312.30" y2="830.30" stroke="#111" stroke-width="1.4"/>
<text x="302.70" y="833.50" font-size="9.3" text-anchor="end" font-family='"Liberation Sans", sans-serif' fill="#1a1a1a" textLength="9.0" lengthAdjust="spacingAndGlyphs" stroke="#1a1a1a" stroke-width="0.1">60</text>
<line x1="307.30" y1="799.50" x2="312.30" y2="799.50" stroke="#111" stroke-width="1.4"/>
<text x="302.70" y="802.70" font-size="9.3" text-anchor="end" font-family='"Liberation Sans", sans-serif' fill="#1a1a1a" textLength="9.0" lengthAdjust="spacingAndGlyphs" stroke="#1a1a1a" stroke-width="0.1">80</text>
<line x1="312.30" y1="922.00" x2="312.30" y2="926.00" stroke="#111" stroke-width="1.4"/>
<text x="312.30" y="939.60" font-size="9.3" text-anchor="middle" font-family='"Liberation Sans", sans-serif' fill="#1a1a1a" textLength="4.6" lengthAdjust="spacingAndGlyphs" stroke="#1a1a1a" stroke-width="0.1">0</text>
<line x1="349.10" y1="922.00" x2="349.10" y2="926.00" stroke="#111" stroke-width="1.4"/>
<text x="349.10" y="939.60" font-size="9.3" text-anchor="middle" font-family='"Liberation Sans", sans-serif' fill="#1a1a1a" textLength="23.0" lengthAdjust="spacingAndGlyphs" stroke="#1a1a1a" stroke-width="0.1">10000</text>
<line x1="385.90" y1="922.00" x2="385.90" y2="926.00" stroke="#111" stroke-width="1.4"/>
<text x="385.90" y="939.60" font-size="9.3" text-anchor="middle" font-family='"Liberation Sans", sans-serif' fill="#1a1a1a" textLength="23.0" lengthAdjust="spacingAndGlyphs" stroke="#1a1a1a" stroke-width="0.1">20000</text>
<line x1="422.70" y1="922.00" x2="422.70" y2="926.00" stroke="#111" stroke-width="1.4"/>
<text x="422.70" y="939.60" font-size="9.3" text-anchor="middle" font-family='"Liberation Sans", sans-serif' fill="#1a1a1a" textLength="23.0" lengthAdjust="spacingAndGlyphs" stroke="#1a1a1a" stroke-width="0.1">30000</text>
<line x1="459.50" y1="922.00" x2="459.50" y2="926.00" stroke="#111" stroke-width="1.4"/>
<text x="459.50" y="939.60" font-size="9.3" text-anchor="middle" font-family='"Liberation Sans", sans-serif' fill="#1a1a1a" textLength="23.0" lengthAdjust="spacingAndGlyphs" stroke="#1a1a1a" stroke-width="0.1">40000</text>
<line x1="496.30" y1="922.00" x2="496.30" y2="926.00" stroke="#111" stroke-width="1.4"/>
<text x="496.30" y="939.60" font-size="9.3" text-anchor="middle" font-family='"Liberation Sans", sans-serif' fill="#1a1a1a" textLength="23.0" lengthAdjust="spacingAndGlyphs" stroke="#1a1a1a" stroke-width="0.1">50000</text>
<text x="406.40" y="956.50" font-size="11.8" text-anchor="middle" font-family='"Liberation Sans", sans-serif' fill="#111" textLength="79" lengthAdjust="spacingAndGlyphs" stroke="#111" stroke-width="0.2">MFI mito green</text>
<text x="284.30" y="858.75" font-size="11" text-anchor="middle" font-family='"Liberation Sans", sans-serif' fill="#111" textLength="83.1" lengthAdjust="spacingAndGlyphs" transform="rotate(-90 284.30 858.75)" stroke="#111" stroke-width="0.2">% CD27+ LAG3-</text>
<circle cx="377.20" cy="845.50" r="2.5" fill="#c7c2c4"/>
<circle cx="402.40" cy="851.60" r="2.5" fill="#c7c2c4"/>
<circle cx="357.60" cy="858.00" r="2.5" fill="#c7c2c4"/>
<circle cx="380.20" cy="885.70" r="2.5" fill="#c7c2c4"/>
<circle cx="361.20" cy="891.80" r="2.5" fill="#c7c2c4"/>
<circle cx="463.70" cy="814.90" r="2.5" fill="#c7c2c4"/>
<circle cx="379.30" cy="824.40" r="2.55" fill="none" stroke="#a0243a" stroke-width="1.2"/>
<circle cx="329.00" cy="871.90" r="2.55" fill="none" stroke="#a0243a" stroke-width="1.2"/>
<circle cx="337.50" cy="879.30" r="2.55" fill="none" stroke="#a0243a" stroke-width="1.2"/>
<circle cx="328.40" cy="899.90" r="2.55" fill="none" stroke="#a0243a" stroke-width="1.2"/>
<circle cx="332.20" cy="903.70" r="2.55" fill="none" stroke="#a0243a" stroke-width="1.2"/>
<circle cx="328.40" cy="907.70" r="2.55" fill="none" stroke="#a0243a" stroke-width="1.2"/>
<circle cx="334.30" cy="906.20" r="2.55" fill="none" stroke="#a0243a" stroke-width="1.2"/>
<circle cx="333.70" cy="910.40" r="2.55" fill="none" stroke="#a0243a" stroke-width="1.2"/>
<circle cx="339.60" cy="907.30" r="2.55" fill="none" stroke="#a0243a" stroke-width="1.2"/>
<circle cx="342.10" cy="907.70" r="2.55" fill="none" stroke="#a0243a" stroke-width="1.2"/>
<circle cx="322.70" cy="914.70" r="2.55" fill="none" stroke="#a0243a" stroke-width="1.2"/>
<circle cx="331.10" cy="918.90" r="2.55" fill="none" stroke="#a0243a" stroke-width="1.2"/>
<circle cx="368.80" cy="901.30" r="2.55" fill="none" stroke="#a0243a" stroke-width="1.2"/>
<circle cx="367.10" cy="910.00" r="2.55" fill="none" stroke="#a0243a" stroke-width="1.2"/>
<circle cx="369.80" cy="918.90" r="2.55" fill="none" stroke="#a0243a" stroke-width="1.2"/>
<circle cx="385.10" cy="918.90" r="2.55" fill="none" stroke="#a0243a" stroke-width="1.2"/>
<circle cx="412.50" cy="899.90" r="2.55" fill="none" stroke="#a0243a" stroke-width="1.2"/>
<text x="438.30" y="902.80" font-size="7.6" text-anchor="start" font-family='"Liberation Serif", serif' fill="#222" textLength="26.9" lengthAdjust="spacingAndGlyphs" stroke="#222" stroke-width="0.15">p=0.002</text>
<text x="438.30" y="915.20" font-size="7.6" text-anchor="start" font-family='"Liberation Serif", serif' fill="#222" textLength="38.4" lengthAdjust="spacingAndGlyphs" stroke="#222" stroke-width="0.15">Rho: 0.5965</text>
<circle cx="176.00" cy="977.80" r="2.5" fill="#c7c2c4"/>
<text x="183.30" y="980.20" font-size="7.4" text-anchor="start" font-family='"Liberation Sans", sans-serif' fill="#111" textLength="72.7" lengthAdjust="spacingAndGlyphs" stroke="#111" stroke-width="0.12">= complete responder</text>
<circle cx="279.00" cy="977.80" r="2.55" fill="none" stroke="#a0243a" stroke-width="1.2"/>
<text x="286.20" y="980.20" font-size="7.4" text-anchor="start" font-family='"Liberation Sans", sans-serif' fill="#111" textLength="55.1" lengthAdjust="spacingAndGlyphs" stroke="#111" stroke-width="0.12">= non-responder</text>
</svg>
</body></html>
